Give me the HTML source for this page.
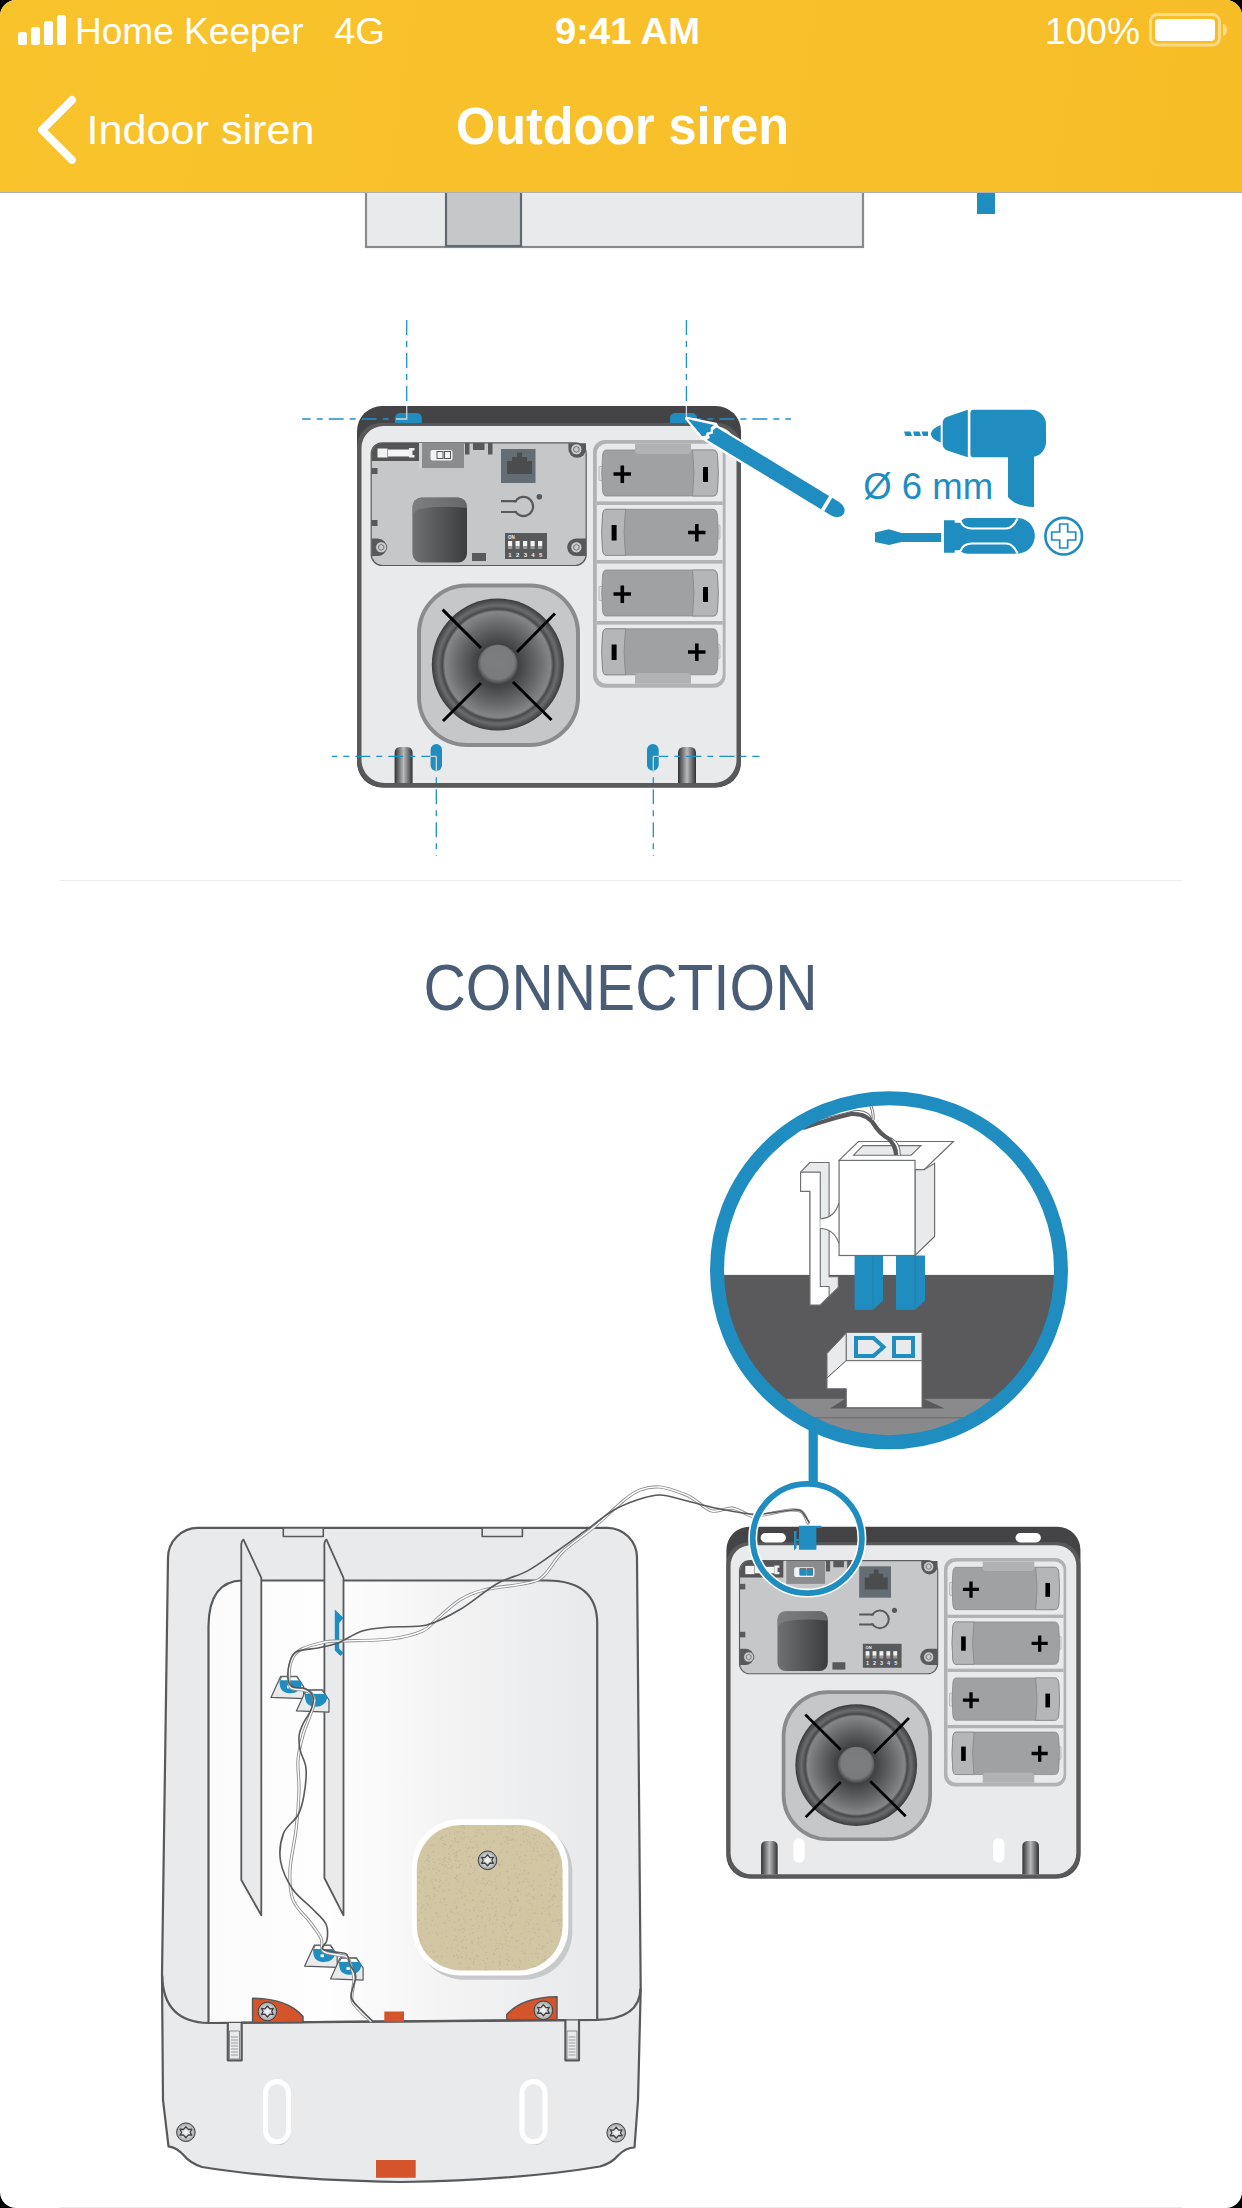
<!DOCTYPE html>
<html><head><meta charset="utf-8">
<style>
html,body{margin:0;padding:0;background:#000;width:1242px;height:2208px;overflow:hidden}
svg{display:block}
text{font-family:"Liberation Sans",sans-serif}
</style></head>
<body>
<svg width="1242" height="2208" viewBox="0 0 1242 2208">
<defs>
  <clipPath id="scr"><rect x="0" y="0" width="1242" height="2208" rx="16" ry="16"/></clipPath>
  <linearGradient id="gbox" x1="0" y1="0" x2="1" y2="0">
    <stop offset="0" stop-color="#707173"/><stop offset="1" stop-color="#3c3d3f"/>
  </linearGradient>
  <linearGradient id="gpost" x1="0" y1="0" x2="1" y2="0">
    <stop offset="0" stop-color="#2f3032"/><stop offset="0.5" stop-color="#b9babc"/><stop offset="1" stop-color="#2f3032"/>
  </linearGradient>
  <radialGradient id="gspk" cx="0.5" cy="0.5" r="0.5">
    <stop offset="0" stop-color="#6e6f71"/>
    <stop offset="0.30" stop-color="#3f4042"/>
    <stop offset="0.62" stop-color="#6a6b6d"/>
    <stop offset="0.80" stop-color="#858688"/>
    <stop offset="0.84" stop-color="#4a4b4d"/>
    <stop offset="0.9" stop-color="#6b6c6e"/>
    <stop offset="1" stop-color="#3a3b3d"/>
  </radialGradient>
  <radialGradient id="gdome" cx="0.5" cy="0.45" r="0.55">
    <stop offset="0" stop-color="#7d7e80"/><stop offset="0.75" stop-color="#7a7b7d"/><stop offset="1" stop-color="#3f4042"/>
  </radialGradient>
  <linearGradient id="gpanel" x1="0" y1="0" x2="1" y2="0">
    <stop offset="0" stop-color="#fbfbfb"/><stop offset="0.3" stop-color="#fefefe"/><stop offset="0.6" stop-color="#f4f4f5"/><stop offset="1" stop-color="#e8e9ea"/>
  </linearGradient>
  <pattern id="cork" x="0" y="0" width="24" height="24" patternUnits="userSpaceOnUse">
    <g fill="#aaa69a" opacity="0.55">
    <circle cx="3" cy="4" r="0.9"/><circle cx="11" cy="2" r="0.7"/><circle cx="18" cy="7" r="0.9"/><circle cx="7" cy="12" r="0.8"/><circle cx="15" cy="15" r="0.9"/><circle cx="22" cy="19" r="0.7"/><circle cx="4" cy="20" r="0.9"/><circle cx="12" cy="22" r="0.7"/><circle cx="20" cy="12" r="0.6"/><circle cx="9" cy="17" r="0.5"/>
    </g>
  </pattern>
  <linearGradient id="ghdr" x1="0" y1="0" x2="1242" y2="192" gradientUnits="userSpaceOnUse">
    <stop offset="0" stop-color="#f9c32c"/><stop offset="0.5" stop-color="#f8c12b"/><stop offset="1" stop-color="#f6bd27"/>
  </linearGradient>
  <radialGradient id="gscrew" cx="0.5" cy="0.5" r="0.5">
    <stop offset="0" stop-color="#f7f7f7"/><stop offset="0.6" stop-color="#cfd0d2"/><stop offset="1" stop-color="#9d9ea0"/>
  </radialGradient>
</defs>
<g clip-path="url(#scr)">
<rect x="0" y="0" width="1242" height="2208" fill="#ffffff"/>

<!-- ======== top partial illustration ======== -->
<rect x="366" y="180" width="497" height="67" fill="#e9eaec" stroke="#8a8b8d" stroke-width="2.2"/>
<rect x="446" y="180" width="75" height="66" fill="#c6c7c9" stroke="#5f6a71" stroke-width="2.2"/>
<rect x="977" y="185" width="18" height="29" fill="#1f8dbf"/>

<!-- ======== header ======== -->
<rect x="0" y="0" width="1242" height="192" fill="url(#ghdr)"/>
<rect x="0" y="192" width="1242" height="1" fill="#b0b0b4"/>
<!-- signal bars -->
<rect x="18" y="32" width="9" height="13" rx="2.5" fill="#fff"/>
<rect x="31" y="27" width="9" height="18" rx="2.5" fill="#fff"/>
<rect x="44" y="21" width="9" height="24" rx="2.5" fill="#fff"/>
<rect x="57" y="15" width="9" height="30" rx="2.5" fill="#fff"/>
<text x="75" y="44" font-size="36.5" fill="#fff" textLength="228.5" lengthAdjust="spacingAndGlyphs">Home Keeper</text>
<text x="334" y="44" font-size="36" fill="#fff" textLength="51" lengthAdjust="spacingAndGlyphs">4G</text>
<text x="555" y="44" font-size="36" font-weight="700" fill="#fff" textLength="145" lengthAdjust="spacingAndGlyphs">9:41 AM</text>
<text x="1045" y="44" font-size="36" fill="#fff" textLength="95" lengthAdjust="spacingAndGlyphs">100%</text>
<!-- battery -->
<rect x="1150.5" y="14.5" width="69" height="30.5" rx="7" fill="none" stroke="#fff" stroke-opacity="0.45" stroke-width="3"/>
<rect x="1155" y="19" width="60" height="22" rx="4" fill="#fff"/>
<path d="M1223 24 a4 6 0 0 1 0 12 Z" fill="#fff" fill-opacity="0.45"/>
<!-- nav -->
<path d="M72 100 L42 130 L72 160" fill="none" stroke="#fff" stroke-width="8" stroke-linecap="round" stroke-linejoin="round"/>
<text x="86.5" y="144" font-size="40" fill="#fff" textLength="228" lengthAdjust="spacingAndGlyphs">Indoor siren</text>
<text x="456" y="144" font-size="51" font-weight="700" fill="#fff" textLength="333" lengthAdjust="spacingAndGlyphs">Outdoor siren</text>

<!-- separator + heading -->
<rect x="60" y="880" width="1122" height="1" fill="#eeeeee"/>
<text x="423.5" y="1009.5" font-size="64" fill="#4a5d77" textLength="394" lengthAdjust="spacingAndGlyphs">CONNECTION</text>
<rect x="60" y="2207" width="1122" height="1" fill="#ebebeb"/>

<!-- DEVICE1 -->
<g id="dev">
  <rect x="357" y="406" width="384" height="381.5" rx="25" fill="#444446"/>
  <path d="M357 447 a24 24 0 0 1 24 -24 H717 a24 24 0 0 1 24 24 V760.5 a27 27 0 0 1 -27 27 H384 a27 27 0 0 1 -27 -27 Z" fill="#58595b"/>
  <path d="M361.5 448 a22 22 0 0 1 22 -22 H714.5 a22 22 0 0 1 22 22 V760 a23 23 0 0 1 -23 23 H384.5 a23 23 0 0 1 -23 -23 Z" fill="#e9eaec"/>
  <!-- PCB -->
  <rect x="371.2" y="442.8" width="215" height="122.7" rx="11" fill="#c6c7c9" stroke="#5b5c5e" stroke-width="1.2"/>
  <path d="M371.8 461 V454 a11 11 0 0 1 11 -11 H419 V461 Z" fill="#555557"/>
  <rect x="377.5" y="448.5" width="10" height="9" fill="#f2f2f2"/>
  <rect x="388" y="449.5" width="21" height="7" fill="#f4f4f4"/>
  <path d="M409 448 h5.5 v2.5 h-2 v4.5 h2 v2.5 h-5.5 Z" fill="#eeeeee"/>
  <rect x="371.5" y="468" width="6" height="6" fill="#58595b"/>
  <rect x="371.5" y="520" width="6" height="6" fill="#58595b"/>
  <rect x="419" y="443" width="3" height="25" fill="#d0d1d2"/>
  <rect x="422" y="443" width="42" height="25" fill="#8b8c8e"/>
  <rect x="430.5" y="450" width="22" height="10.5" rx="2" fill="#f2f2f2"/>
  <rect x="437" y="451.5" width="6" height="7" fill="none" stroke="#555" stroke-width="1"/>
  <rect x="444.5" y="451.5" width="6" height="7" fill="none" stroke="#555" stroke-width="1"/>
  <rect x="465" y="443" width="4.5" height="11.5" fill="#58595b"/>
  <rect x="473" y="443" width="11.5" height="7" fill="#58595b"/>
  <rect x="488" y="443" width="4.5" height="11.5" fill="#58595b"/>
  <rect x="501" y="449" width="34.5" height="34" fill="#646d73"/>
  <path d="M507 474 V461 h5 v-4 h5 v-4.5 h5 v4.5 h5 v4 h5 V474 Z" fill="#4b4c4e"/>
  <rect x="412.4" y="497.6" width="54.6" height="65" rx="9" fill="url(#gbox)"/>
  <path d="M412.4 512 V506.6 a9 9 0 0 1 9 -9 H458 a9 9 0 0 1 9 9 V508 Q440 505 420 509 Q413 511 412.4 516 Z" fill="#8a8b8d" opacity="0.55"/>
  <circle cx="523.5" cy="506.5" r="9.6" fill="none" stroke="#58595b" stroke-width="2.2"/>
  <rect x="511" y="502.4" width="5.5" height="8.5" fill="#c6c7c9"/>
  <path d="M501 501.2 H516.5 M501 512 H516.5" stroke="#58595b" stroke-width="2.2"/>
  <circle cx="539.3" cy="496.7" r="2.8" fill="#58595b"/>
  <rect x="505" y="533" width="42" height="26" fill="#58595b"/>
  <g fill="#f2f2f2">
    <rect x="508" y="541" width="4.2" height="5"/><rect x="515.5" y="541" width="4.2" height="5"/><rect x="523" y="541" width="4.2" height="5"/><rect x="530.5" y="541" width="4.2" height="5"/><rect x="538" y="541" width="4.2" height="5"/>
  </g>
  <g fill="#9a9b9d">
    <rect x="508" y="546" width="4.2" height="3"/><rect x="515.5" y="546" width="4.2" height="3"/><rect x="523" y="546" width="4.2" height="3"/><rect x="530.5" y="546" width="4.2" height="3"/><rect x="538" y="546" width="4.2" height="3"/>
  </g>
  <text x="508" y="539" font-size="4.5" fill="#eee" font-weight="700">ON</text>
  <text x="508.3" y="556.5" font-size="6" fill="#eee" font-weight="700" textLength="34" lengthAdjust="spacing">12345</text>
  <rect x="472" y="553" width="14" height="8" fill="#58595b"/>
  <!-- screws -->
  <g fill="#58595b">
    <path d="M371.8 538.5 h6 a8.8 8.8 0 0 1 0 17.6 h-6 Z"/>
    <path d="M586 538.5 h-10 a8.8 8.8 0 0 0 0 17.6 h10 Z"/>
    <path d="M586 443.3 V449 a8.8 8.8 0 0 1 -17.6 0 V443.3 Z"/>
  </g>
  <g fill="#c9cacc" stroke="#4a4b4d" stroke-width="0.8">
    <circle cx="381.2" cy="547.3" r="5.6"/>
    <circle cx="576.4" cy="547.3" r="5.6"/>
    <circle cx="576.4" cy="449.3" r="5.6"/>
  </g>
  <g fill="none" stroke="#6a6b6d" stroke-width="0.9">
    <path d="M381.2 544.3 l2.6 1.5 v3 l-2.6 1.5 l-2.6 -1.5 v-3 Z"/>
    <path d="M576.4 544.3 l2.6 1.5 v3 l-2.6 1.5 l-2.6 -1.5 v-3 Z"/>
    <path d="M576.4 446.3 l2.6 1.5 v3 l-2.6 1.5 l-2.6 -1.5 v-3 Z"/>
  </g>
  <!-- battery compartment -->
  <rect x="593" y="440" width="132.6" height="247.7" rx="12" fill="#b1b2b4"/>
  <rect x="596.8" y="443.8" width="125.9" height="240" rx="9.5" fill="#e9eaec"/>
  <rect x="596.8" y="501.4" width="125.9" height="3.6" fill="#b1b2b4"/>
  <rect x="596.8" y="560" width="125.9" height="3.6" fill="#b1b2b4"/>
  <rect x="596.8" y="621" width="125.9" height="3.6" fill="#b1b2b4"/>
  <!-- batteries -->
  <g id="batA">
    <rect x="599" y="466.5" width="5" height="14" rx="1" fill="#e0e0e1" stroke="#9a9b9d" stroke-width="0.6"/>
    <path d="M606 450 H713 q4 0 4.5 6 q1.5 17 0 34 q-0.5 6 -4.5 6 H606 q-3 0 -3.5 -6 q-1.5 -17 0 -34 q0.5 -6 3.5 -6 Z" fill="#a0a1a3" stroke="#808183" stroke-width="0.7"/>
    <path d="M692.5 450 H713 q4 0 4.5 6 q1.5 17 0 34 q-0.5 6 -4.5 6 H692.5 q3 -23 0 -46 Z" fill="#b5b6b8" stroke="#808183" stroke-width="0.7"/>
    <path d="M613.5 474 h17.5 M622.3 465.5 v17.5" stroke="#000" stroke-width="3.6"/>
    <rect x="703" y="467" width="5" height="15" fill="#000"/>
  </g>
  <g id="batB">
    <rect x="715" y="525" width="5" height="14" rx="1" fill="#e0e0e1" stroke="#9a9b9d" stroke-width="0.6"/>
    <path d="M606 509.3 H713 q4 0 4.5 6 q1.5 17 0 34 q-0.5 6 -4.5 6 H606 q-3 0 -3.5 -6 q-1.5 -17 0 -34 q0.5 -6 3.5 -6 Z" fill="#a0a1a3" stroke="#808183" stroke-width="0.7"/>
    <path d="M625.5 509.3 H606 q-3 0 -3.5 6 q-1.5 17 0 34 q0.5 6 3.5 6 H625.5 q-3 -23 0 -46 Z" fill="#b5b6b8" stroke="#808183" stroke-width="0.7"/>
    <path d="M688 532.5 h17.5 M696.8 524 v17.5" stroke="#000" stroke-width="3.6"/>
    <rect x="611.6" y="525" width="5" height="15.5" fill="#000"/>
  </g>
  <use href="#batA" transform="translate(0,120)"/>
  <use href="#batB" transform="translate(0,119.5)"/>
  <path d="M635 443.8 H691 V450 q0 4 -4 4 H639 q-4 0 -4 -4 Z" fill="#b1b2b4"/>
  <path d="M635 683.8 H691 V677 q0 -4 -4 -4 H639 q-4 0 -4 4 Z" fill="#b1b2b4"/>
  <!-- speaker -->
  <rect x="419" y="585.5" width="159" height="159.5" rx="48" fill="#c6c7c9" stroke="#8a8b8d" stroke-width="4"/>
  <circle cx="497.8" cy="664.6" r="66" fill="url(#gspk)"/>
  <circle cx="497.8" cy="664.6" r="55.8" fill="none" stroke="#4a4b4d" stroke-width="0.9"/>
  <circle cx="497.8" cy="664.6" r="20" fill="url(#gdome)"/>
  <path d="M442.6 609.6 L481 648 M555 613.5 L517 652 M443 721 L481 683 M551.5 720 L513 682" stroke="#000" stroke-width="3"/>
  <!-- posts -->
  <path d="M394.6 783 V753 q0 -6 6 -6 h6 q6 0 6 6 V783 Z" fill="url(#gpost)"/>
  <path d="M678 783 V753 q0 -6 6 -6 h6 q6 0 6 6 V783 Z" fill="url(#gpost)"/>
</g>
<!-- slots / dashed lines device 1 -->
<g fill="#1f8dbf">
  <path d="M395 423 V418 a5 5 0 0 1 5 -5 H416.8 a5 5 0 0 1 5 5 V423 Z"/>
  <path d="M670 423 V418 a5 5 0 0 1 5 -5 H692 a5 5 0 0 1 5 5 V423 Z"/>
  <rect x="430.6" y="744" width="11.4" height="27" rx="5.7"/>
  <rect x="647" y="744" width="11.7" height="26.7" rx="5.8"/>
</g>
<g stroke="#1b93cc" stroke-width="1.3" fill="none" stroke-dasharray="15 6 6 6">
  <path d="M406.7 320 V406"/>
  <path d="M406.7 419 H302" stroke-dasharray="15 6 6 6" stroke-dashoffset="3"/>
  <path d="M686.4 320 V406"/>
  <path d="M686.4 419 H791"/>
  <path d="M436.3 756.3 H332"/>
  <path d="M436.3 756.3 V856"/>
  <path d="M653.3 756.3 H759.4"/>
  <path d="M653.3 756.3 V856"/>
</g>
<g stroke="#cfd6de" stroke-width="1.3" fill="none">
  <path d="M406.7 406 V419 H396"/>
  <path d="M686.4 406 V419 H697"/>
  <path d="M436.3 756.3 V772 M436.3 756.3 H430"/>
  <path d="M653.3 756.3 V771 M653.3 756.3 H659"/>
</g>

<!-- TOOLS -->
<g fill="#1f8dbf">
  <!-- pencil -->
  <g transform="translate(686.6,418.4) rotate(31.3)">
    <path d="M0 0 L28 -10 L31 -8.4 V-8.4 H162 V8.4 H30 L23 8 Z M165.5 -8.4 H174 a10 8.4 0 0 1 0 16.8 H165.5 Z" fill="#fff" stroke="#fff" stroke-width="3.2" stroke-linejoin="round"/>
    <path d="M1.5 0 L27 -8.6 L25.5 -4.5 L27.5 -1.5 L24.5 2 L25.5 4.5 L22.5 7.2 Z"/>
    <path d="M30.5 -7.8 H162 V7.8 H28.5 L30 4.5 L27.5 2.5 L30.5 -1 L28.5 -3.5 Z"/>
    <path d="M165.8 -7.8 H174 a9.8 7.8 0 0 1 0 15.6 H165.8 Z"/>
  </g>
  <!-- drill -->
  <path d="M904 431.6 h6.5 l1.5 4.4 h-6.5 Z M913 431.6 h6.5 l1.5 4.4 h-6.5 Z M921.5 431.6 h6.5 v4.4 h-5 Z"/>
  <path d="M940.7 425 Q931 429 930.8 433.8 Q931 439 940.7 442.5 Z"/>
  <path d="M967.8 409.7 V457.3 L946.5 450.2 Q942.7 448 942.7 444 V423 Q942.7 419 946.5 417 Z"/>
  <path d="M973.4 409.7 H1031 a15 15 0 0 1 15 15 V442 a15 15 0 0 1 -12 14.8 V507 Q1015 506 1008 497 V457.3 H973.4 a3 3 0 0 1 -3 -3 V412.7 a3 3 0 0 1 3 -3 Z"/>
  <!-- screwdriver -->
  <path d="M875 532.5 L889 529.2 L901.5 533 H941.2 V542 H901.5 L889 545 L875 542 Z"/>
  <path d="M944 520.3 H954.7 V522.8 H960 Q962 518 968 518 H1017 a17.8 17.8 0 0 1 0 35.7 H968 Q962 553.7 960 550.3 H954.7 V552.8 H944 Z"/>
  <path d="M960.5 521 Q963 528.5 972 528.5 H1006 Q1013 528.5 1017.5 518.5 M960.5 551 Q963 543.5 972 543.5 H1006 Q1013 543.5 1017.5 553.5" fill="none" stroke="#fff" stroke-width="2.2"/>
</g>
<circle cx="1063.7" cy="536.2" r="18.3" fill="none" stroke="#1f8dbf" stroke-width="2.6"/>
<path d="M1059.7 524 h8 v8 h8 v8 h-8 v8 h-8 v-8 h-8 v-8 h8 Z" fill="none" stroke="#1f8dbf" stroke-width="1.7"/>
<text x="863.2" y="498.5" font-size="37" fill="#1f8dbf" textLength="130" lengthAdjust="spacingAndGlyphs">Ø 6 mm</text>

<!-- CONNECTION ILLUSTRATION -->
<!-- ===== back plate ===== -->
<g id="plate" stroke-linejoin="round">
  <path d="M198 1527.8 H607.5 A30 30 0 0 1 637 1558 L640.7 1990 L638 2100 L634.5 2147.5 Q626 2147.5 618 2155.5 Q612 2163 600 2166.5 Q520 2180 401 2182 Q282 2180 202 2167 Q190 2163 184 2155.5 Q177 2147.5 168.5 2146.3 L163 2100 L162 1975 L167.4 1600 L168 1558 A30 30 0 0 1 198 1527.8 Z" fill="#e9eaec" stroke="#58595b" stroke-width="2.2"/>
  <path d="M162.3 1975.7 Q163 2022 208.7 2023 M596.8 2019.8 Q640 2019 640.5 1988.4" fill="none" stroke="#58595b" stroke-width="2.2"/>
  <rect x="283.3" y="1528" width="40" height="8.5" fill="#e9eaec" stroke="#58595b" stroke-width="1.6"/>
  <rect x="482.2" y="1528" width="40.2" height="8.5" fill="#e9eaec" stroke="#58595b" stroke-width="1.6"/>
  <!-- inner opening -->
  <path d="M208.5 2023 V1626 Q209 1581 242.4 1580.5 H547.4 Q597 1581 597.2 1623 V2020 Z" fill="url(#gpanel)" stroke="#58595b" stroke-width="2.2"/>
  <!-- bottom edge with notches -->
  <path d="M208.5 2023 H227.8 V2060.3 H241.7 V2022.6 L565.4 2020 V2060.3 H579 V2020 H597.2" fill="#e9eaec" stroke="#58595b" stroke-width="2.2"/>
  <rect x="229.5" y="2031" width="10" height="28" fill="#e9eaec" stroke="#8a8b8d" stroke-width="1"/>
  <rect x="567" y="2031" width="10" height="28" fill="#e9eaec" stroke="#8a8b8d" stroke-width="1"/>
  <path d="M231 2037 h7 M231 2040 h7 M231 2043 h7 M231 2046 h7 M231 2049 h7 M231 2052 h7 M231 2055 h7 M568.5 2037 h7 M568.5 2040 h7 M568.5 2043 h7 M568.5 2046 h7 M568.5 2049 h7 M568.5 2052 h7 M568.5 2055 h7" stroke="#8a8b8d" stroke-width="0.8"/>
  <!-- rails -->
  <path d="M243.5 1539.6 L261.3 1577.8 V1915.3 L241.3 1880 V1548 Q240.8 1541.5 243.5 1539.6 Z" fill="#e9eaec" stroke="#58595b" stroke-width="1.8"/>
  <path d="M326.5 1539.6 L343.5 1577.8 V1915.3 L324.4 1878 V1548 Q323.8 1541.5 326.5 1539.6 Z" fill="#e9eaec" stroke="#58595b" stroke-width="1.8"/>
  <path d="M334.8 1609.5 L343.5 1618 L339.2 1623 V1648.5 L343.5 1653 L340.5 1656 L334.8 1650.5 Z" fill="#1f8dbf"/>
  <!-- orange -->
  <path d="M252.6 2022.4 V1998.2 Q288 1998.5 303 2016.5 V2022.4 Z" fill="#d4542b" stroke="#58595b" stroke-width="1.5" stroke-linejoin="round"/>
  <path d="M557 2019.8 V1996.8 Q522 1997.3 506.8 2014.5 V2019.8 Z" fill="#d4542b" stroke="#58595b" stroke-width="1.5" stroke-linejoin="round"/>
  <rect x="384.3" y="2011.5" width="19.7" height="10.2" fill="#d4542b"/>
  <rect x="376" y="2160" width="39.7" height="17.8" fill="#d4542b"/>
  <!-- slots -->
  <rect x="267" y="2083" width="23" height="62" rx="11.5" fill="#c9cacc"/>
  <rect x="265.5" y="2081.5" width="23" height="60.5" rx="11.5" fill="#e9eaec" stroke="#ffffff" stroke-width="5"/>
  <rect x="523.5" y="2083" width="23" height="62" rx="11.5" fill="#c9cacc"/>
  <rect x="522" y="2081.5" width="23" height="60.5" rx="11.5" fill="#e9eaec" stroke="#ffffff" stroke-width="5"/>
  <!-- cork -->
  <rect x="416" y="1823.5" width="156.3" height="156.2" rx="48" fill="#c8c9cb"/>
  <rect x="412" y="1819.3" width="156.3" height="156.2" rx="48" fill="#ffffff"/>
  <rect x="416.8" y="1825" width="145.8" height="145.4" rx="44" fill="#d2c6a3"/>
  <clipPath id="corkc"><rect x="416.8" y="1825" width="145.8" height="145.4" rx="44"/></clipPath><g clip-path="url(#corkc)" fill="#aeaa9c" opacity="0.5"><circle cx="483.0" cy="1906.2" r="0.7"/><circle cx="483.0" cy="1949.0" r="0.5"/><circle cx="444.0" cy="1899.2" r="0.9"/><circle cx="506.6" cy="1852.0" r="0.7"/><circle cx="461.3" cy="1838.1" r="0.9"/><circle cx="509.6" cy="1911.3" r="0.7"/><circle cx="557.9" cy="1919.8" r="0.8"/><circle cx="511.9" cy="1915.4" r="0.8"/><circle cx="426.2" cy="1830.2" r="0.5"/><circle cx="504.5" cy="1937.8" r="0.6"/><circle cx="481.3" cy="1947.2" r="0.8"/><circle cx="451.1" cy="1867.7" r="0.4"/><circle cx="513.7" cy="1891.3" r="0.6"/><circle cx="476.4" cy="1904.9" r="0.4"/><circle cx="520.3" cy="1870.7" r="0.5"/><circle cx="491.9" cy="1829.3" r="0.8"/><circle cx="528.9" cy="1883.1" r="0.6"/><circle cx="473.4" cy="1963.9" r="0.9"/><circle cx="417.1" cy="1855.4" r="0.4"/><circle cx="485.6" cy="1967.2" r="0.7"/><circle cx="478.3" cy="1907.1" r="0.5"/><circle cx="530.7" cy="1864.1" r="0.4"/><circle cx="462.4" cy="1827.2" r="0.7"/><circle cx="527.7" cy="1842.1" r="0.5"/><circle cx="520.2" cy="1826.6" r="0.7"/><circle cx="533.4" cy="1850.8" r="0.8"/><circle cx="444.5" cy="1898.8" r="0.9"/><circle cx="529.4" cy="1885.8" r="0.7"/><circle cx="434.0" cy="1886.0" r="0.5"/><circle cx="417.1" cy="1950.3" r="0.8"/><circle cx="461.4" cy="1953.3" r="0.5"/><circle cx="444.3" cy="1969.4" r="0.8"/><circle cx="510.7" cy="1839.5" r="0.5"/><circle cx="448.1" cy="1862.5" r="0.8"/><circle cx="465.0" cy="1868.0" r="0.4"/><circle cx="427.8" cy="1855.3" r="0.9"/><circle cx="452.5" cy="1912.2" r="0.6"/><circle cx="507.8" cy="1843.4" r="0.8"/><circle cx="487.6" cy="1908.3" r="0.7"/><circle cx="443.7" cy="1847.3" r="0.5"/><circle cx="536.4" cy="1861.2" r="0.5"/><circle cx="440.1" cy="1916.2" r="0.8"/><circle cx="445.7" cy="1962.8" r="0.7"/><circle cx="505.1" cy="1886.1" r="0.4"/><circle cx="432.9" cy="1899.3" r="0.6"/><circle cx="451.8" cy="1927.2" r="0.6"/><circle cx="478.4" cy="1956.2" r="0.7"/><circle cx="459.8" cy="1850.4" r="0.9"/><circle cx="559.7" cy="1843.3" r="0.7"/><circle cx="498.7" cy="1948.6" r="0.8"/><circle cx="427.8" cy="1855.8" r="0.5"/><circle cx="526.4" cy="1835.0" r="0.7"/><circle cx="482.1" cy="1833.8" r="0.5"/><circle cx="458.2" cy="1902.0" r="0.5"/><circle cx="430.5" cy="1845.1" r="0.7"/><circle cx="560.2" cy="1920.3" r="0.9"/><circle cx="493.2" cy="1962.3" r="0.8"/><circle cx="422.1" cy="1827.6" r="0.6"/><circle cx="519.3" cy="1964.6" r="0.4"/><circle cx="504.4" cy="1835.9" r="0.4"/><circle cx="523.7" cy="1871.2" r="0.4"/><circle cx="428.0" cy="1904.2" r="0.9"/><circle cx="423.5" cy="1960.8" r="0.9"/><circle cx="519.7" cy="1940.0" r="0.6"/><circle cx="468.4" cy="1924.3" r="0.4"/><circle cx="544.2" cy="1885.5" r="0.4"/><circle cx="543.1" cy="1908.1" r="0.8"/><circle cx="513.7" cy="1880.0" r="0.4"/><circle cx="505.9" cy="1836.6" r="0.9"/><circle cx="433.9" cy="1862.3" r="0.7"/><circle cx="523.3" cy="1881.3" r="0.9"/><circle cx="518.3" cy="1891.4" r="0.7"/><circle cx="539.4" cy="1837.1" r="0.8"/><circle cx="421.3" cy="1912.2" r="0.7"/><circle cx="420.3" cy="1963.8" r="0.4"/><circle cx="489.6" cy="1914.1" r="0.7"/><circle cx="454.4" cy="1826.6" r="0.6"/><circle cx="437.9" cy="1913.7" r="0.8"/><circle cx="441.8" cy="1956.3" r="0.9"/><circle cx="552.8" cy="1897.3" r="0.5"/><circle cx="464.7" cy="1921.6" r="0.5"/><circle cx="509.6" cy="1941.5" r="0.5"/><circle cx="545.5" cy="1880.7" r="0.8"/><circle cx="551.4" cy="1855.4" r="0.5"/><circle cx="489.5" cy="1946.4" r="0.4"/><circle cx="520.8" cy="1962.8" r="0.6"/><circle cx="537.0" cy="1841.4" r="0.7"/><circle cx="457.2" cy="1856.0" r="0.7"/><circle cx="472.9" cy="1900.4" r="0.9"/><circle cx="463.0" cy="1946.7" r="0.8"/><circle cx="483.1" cy="1835.8" r="0.4"/><circle cx="457.6" cy="1913.1" r="0.9"/><circle cx="520.5" cy="1907.7" r="0.6"/><circle cx="511.8" cy="1906.8" r="0.9"/><circle cx="436.8" cy="1891.0" r="0.4"/><circle cx="529.3" cy="1863.6" r="0.5"/><circle cx="533.3" cy="1967.7" r="0.4"/><circle cx="482.2" cy="1916.3" r="0.9"/><circle cx="510.4" cy="1878.5" r="0.4"/><circle cx="516.9" cy="1853.9" r="0.7"/><circle cx="454.4" cy="1928.6" r="0.7"/><circle cx="495.1" cy="1830.2" r="0.5"/><circle cx="456.8" cy="1875.1" r="0.9"/><circle cx="555.2" cy="1897.6" r="0.5"/><circle cx="474.5" cy="1939.8" r="0.5"/><circle cx="429.7" cy="1960.2" r="0.9"/><circle cx="473.6" cy="1890.3" r="0.5"/><circle cx="508.3" cy="1956.9" r="0.7"/><circle cx="497.3" cy="1919.6" r="0.8"/><circle cx="533.3" cy="1961.9" r="0.7"/><circle cx="464.7" cy="1967.4" r="0.4"/><circle cx="522.4" cy="1943.7" r="0.9"/><circle cx="551.9" cy="1842.9" r="0.5"/><circle cx="548.4" cy="1967.2" r="0.6"/><circle cx="495.4" cy="1939.7" r="0.6"/><circle cx="455.2" cy="1929.1" r="0.4"/><circle cx="467.9" cy="1837.0" r="0.7"/><circle cx="466.9" cy="1886.1" r="0.6"/><circle cx="488.2" cy="1829.1" r="0.4"/><circle cx="479.6" cy="1830.1" r="0.8"/><circle cx="465.9" cy="1939.2" r="0.5"/><circle cx="485.7" cy="1970.0" r="0.9"/><circle cx="492.7" cy="1923.3" r="0.7"/><circle cx="555.1" cy="1896.4" r="0.9"/><circle cx="429.6" cy="1857.1" r="0.8"/><circle cx="498.6" cy="1945.5" r="0.8"/><circle cx="510.3" cy="1900.8" r="0.8"/><circle cx="454.5" cy="1922.3" r="0.8"/><circle cx="447.4" cy="1948.4" r="0.8"/><circle cx="493.5" cy="1908.1" r="0.5"/><circle cx="477.0" cy="1841.6" r="0.4"/><circle cx="505.4" cy="1829.0" r="0.4"/><circle cx="492.3" cy="1883.1" r="0.8"/><circle cx="434.8" cy="1838.5" r="0.5"/><circle cx="426.6" cy="1903.1" r="0.7"/><circle cx="551.4" cy="1941.1" r="0.7"/><circle cx="456.3" cy="1893.6" r="0.5"/><circle cx="466.6" cy="1955.6" r="0.7"/><circle cx="493.6" cy="1840.7" r="0.7"/><circle cx="507.2" cy="1959.2" r="0.5"/><circle cx="519.5" cy="1966.7" r="0.4"/><circle cx="445.3" cy="1858.0" r="0.9"/><circle cx="458.5" cy="1929.9" r="0.5"/><circle cx="507.5" cy="1840.2" r="0.9"/><circle cx="502.0" cy="1948.5" r="0.8"/><circle cx="453.6" cy="1853.7" r="0.8"/><circle cx="545.3" cy="1828.4" r="0.9"/><circle cx="477.4" cy="1901.8" r="0.5"/><circle cx="495.6" cy="1950.3" r="0.8"/><circle cx="510.2" cy="1901.8" r="0.8"/><circle cx="506.3" cy="1949.2" r="0.5"/><circle cx="550.6" cy="1916.0" r="0.6"/><circle cx="548.8" cy="1870.8" r="0.6"/><circle cx="547.0" cy="1853.2" r="0.5"/><circle cx="546.6" cy="1844.4" r="0.5"/><circle cx="436.4" cy="1837.8" r="0.7"/><circle cx="431.2" cy="1945.7" r="0.7"/><circle cx="496.3" cy="1927.2" r="0.5"/><circle cx="475.8" cy="1924.4" r="0.4"/><circle cx="431.0" cy="1907.6" r="0.6"/><circle cx="550.1" cy="1965.4" r="0.4"/><circle cx="519.9" cy="1917.0" r="0.6"/><circle cx="490.4" cy="1924.4" r="0.5"/><circle cx="534.2" cy="1894.9" r="0.4"/><circle cx="422.5" cy="1905.0" r="0.8"/><circle cx="549.1" cy="1894.8" r="0.5"/><circle cx="443.9" cy="1854.6" r="0.5"/><circle cx="561.6" cy="1959.4" r="0.4"/><circle cx="501.6" cy="1844.5" r="0.9"/><circle cx="484.5" cy="1935.9" r="0.6"/><circle cx="474.1" cy="1886.8" r="0.6"/><circle cx="479.8" cy="1912.1" r="0.4"/><circle cx="509.6" cy="1830.9" r="0.5"/><circle cx="443.5" cy="1890.8" r="0.9"/><circle cx="471.0" cy="1958.7" r="0.8"/><circle cx="441.1" cy="1899.3" r="0.4"/><circle cx="464.3" cy="1837.3" r="0.9"/><circle cx="544.8" cy="1956.8" r="0.7"/><circle cx="500.2" cy="1852.7" r="0.8"/><circle cx="560.5" cy="1941.7" r="0.6"/><circle cx="457.8" cy="1841.9" r="0.9"/><circle cx="530.6" cy="1943.1" r="0.7"/><circle cx="436.4" cy="1872.8" r="0.8"/><circle cx="518.4" cy="1936.3" r="0.5"/><circle cx="476.2" cy="1929.8" r="0.4"/><circle cx="533.4" cy="1868.7" r="0.4"/><circle cx="418.5" cy="1876.6" r="0.9"/><circle cx="548.8" cy="1832.2" r="0.6"/><circle cx="554.9" cy="1921.6" r="0.6"/><circle cx="448.5" cy="1883.9" r="0.5"/><circle cx="494.8" cy="1881.5" r="0.7"/><circle cx="510.8" cy="1926.7" r="0.7"/><circle cx="560.1" cy="1828.3" r="0.8"/><circle cx="432.8" cy="1859.4" r="0.7"/><circle cx="475.6" cy="1832.3" r="0.5"/><circle cx="511.6" cy="1826.6" r="0.6"/><circle cx="453.6" cy="1956.3" r="0.8"/><circle cx="495.9" cy="1885.3" r="0.8"/><circle cx="499.9" cy="1969.3" r="0.9"/><circle cx="481.9" cy="1918.5" r="0.8"/><circle cx="504.2" cy="1935.1" r="0.4"/><circle cx="473.4" cy="1961.1" r="0.7"/><circle cx="485.9" cy="1849.5" r="0.7"/><circle cx="496.1" cy="1911.5" r="0.7"/><circle cx="555.0" cy="1886.0" r="0.8"/><circle cx="475.2" cy="1870.3" r="0.8"/><circle cx="458.7" cy="1920.0" r="0.8"/><circle cx="552.7" cy="1921.2" r="0.9"/><circle cx="460.2" cy="1827.0" r="0.5"/><circle cx="502.5" cy="1916.8" r="0.7"/><circle cx="527.2" cy="1881.5" r="0.6"/><circle cx="526.3" cy="1832.3" r="0.9"/><circle cx="554.9" cy="1835.7" r="0.5"/><circle cx="479.7" cy="1894.3" r="0.5"/><circle cx="423.6" cy="1839.3" r="0.9"/><circle cx="549.8" cy="1845.9" r="0.5"/><circle cx="505.1" cy="1841.7" r="0.8"/><circle cx="477.9" cy="1842.1" r="0.4"/><circle cx="469.1" cy="1847.4" r="0.6"/><circle cx="481.7" cy="1921.8" r="0.7"/><circle cx="504.8" cy="1917.7" r="0.9"/><circle cx="478.3" cy="1937.8" r="0.8"/><circle cx="536.0" cy="1844.9" r="0.6"/><circle cx="524.2" cy="1859.6" r="0.4"/><circle cx="490.4" cy="1869.7" r="0.8"/><circle cx="508.2" cy="1877.1" r="0.6"/><circle cx="506.0" cy="1930.1" r="0.9"/><circle cx="503.4" cy="1916.8" r="0.5"/><circle cx="444.7" cy="1861.1" r="0.9"/><circle cx="550.7" cy="1952.4" r="0.4"/><circle cx="508.7" cy="1826.4" r="0.6"/><circle cx="479.1" cy="1915.4" r="0.4"/><circle cx="449.5" cy="1865.4" r="0.4"/><circle cx="550.3" cy="1848.3" r="0.5"/><circle cx="509.1" cy="1879.1" r="0.7"/><circle cx="468.7" cy="1874.0" r="0.7"/><circle cx="525.7" cy="1946.6" r="0.4"/><circle cx="534.1" cy="1889.9" r="0.8"/><circle cx="539.3" cy="1936.5" r="0.7"/><circle cx="479.0" cy="1862.4" r="0.5"/><circle cx="470.9" cy="1919.8" r="0.8"/><circle cx="464.5" cy="1904.5" r="0.9"/><circle cx="537.6" cy="1851.7" r="0.9"/><circle cx="470.9" cy="1839.1" r="0.6"/><circle cx="428.5" cy="1837.0" r="0.8"/><circle cx="499.9" cy="1943.2" r="0.7"/><circle cx="460.6" cy="1937.4" r="0.4"/><circle cx="462.3" cy="1957.0" r="0.8"/><circle cx="428.9" cy="1869.1" r="0.9"/><circle cx="528.6" cy="1872.6" r="0.5"/><circle cx="448.9" cy="1920.3" r="0.6"/><circle cx="470.5" cy="1842.0" r="0.9"/><circle cx="481.4" cy="1911.2" r="0.9"/><circle cx="550.4" cy="1888.5" r="0.6"/><circle cx="483.9" cy="1857.1" r="0.9"/><circle cx="547.6" cy="1861.0" r="0.6"/><circle cx="538.0" cy="1828.5" r="0.9"/><circle cx="474.8" cy="1881.2" r="0.5"/><circle cx="524.9" cy="1878.4" r="0.7"/><circle cx="495.9" cy="1946.3" r="0.8"/><circle cx="442.9" cy="1838.0" r="0.7"/><circle cx="545.6" cy="1865.8" r="0.4"/><circle cx="449.3" cy="1833.4" r="0.5"/><circle cx="499.8" cy="1965.1" r="0.9"/><circle cx="539.9" cy="1886.3" r="0.8"/><circle cx="496.8" cy="1939.3" r="0.4"/><circle cx="465.8" cy="1864.7" r="0.4"/><circle cx="548.3" cy="1837.3" r="0.9"/><circle cx="512.4" cy="1839.1" r="0.9"/><circle cx="478.6" cy="1928.3" r="0.7"/><circle cx="528.7" cy="1900.6" r="0.7"/><circle cx="474.6" cy="1874.0" r="0.6"/><circle cx="515.2" cy="1896.6" r="0.8"/><circle cx="534.5" cy="1835.5" r="0.8"/><circle cx="550.6" cy="1884.5" r="0.9"/><circle cx="468.0" cy="1825.6" r="0.7"/><circle cx="538.7" cy="1953.9" r="0.8"/><circle cx="510.5" cy="1901.0" r="0.9"/><circle cx="418.5" cy="1840.9" r="0.7"/><circle cx="550.7" cy="1860.6" r="0.5"/><circle cx="561.7" cy="1879.5" r="0.5"/><circle cx="463.8" cy="1881.5" r="0.8"/><circle cx="459.6" cy="1965.6" r="0.4"/><circle cx="485.8" cy="1931.0" r="0.6"/><circle cx="511.6" cy="1937.5" r="0.5"/><circle cx="550.2" cy="1934.2" r="0.4"/><circle cx="502.3" cy="1956.8" r="0.4"/><circle cx="462.6" cy="1853.7" r="0.6"/><circle cx="448.7" cy="1859.1" r="0.9"/><circle cx="485.9" cy="1898.7" r="0.7"/><circle cx="444.0" cy="1865.8" r="0.5"/><circle cx="550.0" cy="1960.9" r="0.9"/><circle cx="497.0" cy="1943.5" r="0.7"/><circle cx="541.6" cy="1895.3" r="0.7"/><circle cx="550.5" cy="1874.6" r="0.8"/><circle cx="529.7" cy="1838.4" r="0.5"/><circle cx="475.3" cy="1856.5" r="0.5"/><circle cx="534.0" cy="1880.8" r="0.8"/><circle cx="533.0" cy="1937.3" r="0.4"/><circle cx="513.0" cy="1859.5" r="0.4"/><circle cx="544.6" cy="1956.3" r="0.7"/><circle cx="533.3" cy="1928.4" r="0.8"/><circle cx="544.7" cy="1885.3" r="0.6"/><circle cx="438.1" cy="1956.7" r="0.8"/><circle cx="436.1" cy="1932.5" r="0.8"/><circle cx="455.9" cy="1902.5" r="0.5"/><circle cx="500.5" cy="1850.9" r="0.5"/><circle cx="536.9" cy="1947.7" r="0.5"/><circle cx="429.0" cy="1864.1" r="0.9"/><circle cx="494.1" cy="1954.0" r="0.9"/><circle cx="485.4" cy="1963.5" r="0.8"/><circle cx="496.3" cy="1898.4" r="0.4"/><circle cx="532.2" cy="1885.5" r="0.9"/><circle cx="430.3" cy="1944.8" r="0.5"/><circle cx="422.4" cy="1884.9" r="0.7"/><circle cx="440.0" cy="1945.6" r="0.6"/><circle cx="463.2" cy="1883.8" r="0.8"/><circle cx="461.6" cy="1892.7" r="0.9"/><circle cx="426.8" cy="1835.8" r="0.5"/><circle cx="432.4" cy="1882.2" r="0.7"/><circle cx="526.0" cy="1938.7" r="0.4"/><circle cx="512.5" cy="1826.8" r="0.7"/><circle cx="520.9" cy="1893.9" r="0.6"/><circle cx="499.4" cy="1891.4" r="0.4"/><circle cx="542.0" cy="1947.5" r="0.9"/><circle cx="447.2" cy="1914.3" r="0.6"/><circle cx="508.7" cy="1960.9" r="0.9"/><circle cx="460.5" cy="1873.9" r="0.7"/><circle cx="498.1" cy="1837.6" r="0.5"/><circle cx="446.2" cy="1931.1" r="0.6"/><circle cx="462.2" cy="1864.7" r="0.7"/><circle cx="522.7" cy="1873.1" r="0.7"/><circle cx="430.5" cy="1845.4" r="0.4"/><circle cx="436.2" cy="1916.4" r="0.5"/><circle cx="443.3" cy="1883.3" r="0.7"/><circle cx="503.5" cy="1838.1" r="0.5"/><circle cx="421.7" cy="1968.2" r="0.7"/><circle cx="476.4" cy="1835.5" r="0.7"/><circle cx="552.3" cy="1845.2" r="0.5"/><circle cx="529.0" cy="1944.1" r="0.7"/><circle cx="487.5" cy="1958.6" r="0.8"/><circle cx="419.3" cy="1883.1" r="0.9"/><circle cx="463.4" cy="1939.4" r="0.5"/><circle cx="513.4" cy="1913.2" r="0.4"/><circle cx="455.1" cy="1852.4" r="0.6"/><circle cx="512.0" cy="1840.4" r="0.7"/><circle cx="446.9" cy="1873.2" r="0.6"/><circle cx="537.5" cy="1913.7" r="0.5"/><circle cx="454.1" cy="1903.1" r="0.6"/><circle cx="497.0" cy="1876.1" r="0.8"/><circle cx="492.0" cy="1908.3" r="0.5"/><circle cx="561.1" cy="1899.8" r="0.9"/><circle cx="520.2" cy="1960.7" r="0.8"/><circle cx="555.0" cy="1915.9" r="0.5"/><circle cx="530.4" cy="1844.8" r="0.7"/><circle cx="501.2" cy="1926.1" r="0.6"/><circle cx="430.4" cy="1951.5" r="0.6"/><circle cx="484.6" cy="1843.0" r="0.9"/><circle cx="436.8" cy="1956.1" r="0.8"/><circle cx="496.7" cy="1834.2" r="0.6"/><circle cx="441.6" cy="1933.1" r="0.6"/><circle cx="504.8" cy="1842.8" r="0.4"/><circle cx="459.1" cy="1955.1" r="0.5"/><circle cx="527.7" cy="1877.6" r="0.5"/><circle cx="444.1" cy="1904.4" r="0.4"/><circle cx="483.3" cy="1883.5" r="0.9"/><circle cx="437.2" cy="1934.6" r="0.9"/><circle cx="549.3" cy="1914.2" r="0.9"/><circle cx="534.4" cy="1827.4" r="0.5"/><circle cx="477.2" cy="1829.8" r="0.8"/><circle cx="473.4" cy="1907.6" r="0.5"/><circle cx="466.1" cy="1844.1" r="0.5"/><circle cx="499.9" cy="1873.2" r="0.9"/><circle cx="531.5" cy="1929.6" r="0.5"/><circle cx="475.9" cy="1897.1" r="0.4"/><circle cx="485.6" cy="1884.7" r="0.8"/><circle cx="550.3" cy="1906.9" r="0.7"/><circle cx="526.8" cy="1895.4" r="0.7"/><circle cx="539.4" cy="1949.0" r="0.7"/><circle cx="537.5" cy="1842.0" r="0.4"/><circle cx="549.2" cy="1901.3" r="0.8"/><circle cx="493.0" cy="1886.0" r="0.4"/><circle cx="463.8" cy="1832.9" r="0.9"/><circle cx="507.0" cy="1887.8" r="0.7"/><circle cx="504.2" cy="1934.0" r="0.6"/><circle cx="545.9" cy="1952.2" r="0.5"/><circle cx="435.2" cy="1889.8" r="0.8"/><circle cx="544.5" cy="1966.0" r="0.7"/><circle cx="518.5" cy="1901.3" r="0.5"/><circle cx="496.6" cy="1920.2" r="0.5"/><circle cx="545.4" cy="1969.9" r="0.9"/><circle cx="558.1" cy="1921.5" r="0.8"/><circle cx="478.5" cy="1941.8" r="0.5"/><circle cx="511.8" cy="1886.1" r="0.4"/><circle cx="548.9" cy="1839.3" r="0.5"/><circle cx="435.1" cy="1903.0" r="0.7"/><circle cx="417.1" cy="1860.4" r="0.6"/><circle cx="420.5" cy="1849.9" r="0.7"/><circle cx="547.7" cy="1943.2" r="0.7"/><circle cx="437.6" cy="1925.4" r="0.5"/><circle cx="423.7" cy="1829.5" r="0.6"/><circle cx="461.9" cy="1897.3" r="0.7"/><circle cx="545.3" cy="1854.4" r="0.9"/><circle cx="547.9" cy="1853.3" r="0.6"/><circle cx="548.3" cy="1827.3" r="0.9"/><circle cx="545.4" cy="1969.3" r="0.5"/><circle cx="494.8" cy="1859.3" r="0.4"/><circle cx="511.9" cy="1869.4" r="0.6"/><circle cx="557.4" cy="1864.7" r="0.7"/><circle cx="521.1" cy="1844.6" r="0.9"/><circle cx="556.7" cy="1937.9" r="0.7"/><circle cx="428.5" cy="1857.4" r="0.6"/><circle cx="434.6" cy="1925.2" r="0.6"/><circle cx="443.4" cy="1859.1" r="0.9"/><circle cx="460.1" cy="1864.6" r="0.9"/><circle cx="493.6" cy="1841.8" r="0.8"/><circle cx="450.4" cy="1868.6" r="0.5"/><circle cx="514.4" cy="1865.1" r="0.9"/><circle cx="514.5" cy="1892.1" r="0.4"/><circle cx="481.3" cy="1901.6" r="0.8"/><circle cx="549.5" cy="1826.0" r="0.8"/><circle cx="458.5" cy="1861.4" r="0.8"/><circle cx="429.7" cy="1866.3" r="0.5"/><circle cx="452.9" cy="1865.5" r="0.8"/><circle cx="421.2" cy="1939.6" r="0.5"/><circle cx="561.2" cy="1829.9" r="0.7"/><circle cx="550.8" cy="1909.8" r="0.4"/><circle cx="552.7" cy="1897.5" r="0.5"/><circle cx="426.3" cy="1937.6" r="0.6"/><circle cx="463.8" cy="1895.1" r="0.4"/><circle cx="492.4" cy="1898.3" r="0.9"/><circle cx="516.9" cy="1900.5" r="0.8"/><circle cx="442.4" cy="1938.0" r="0.5"/><circle cx="433.4" cy="1888.2" r="0.9"/><circle cx="481.3" cy="1937.1" r="0.9"/><circle cx="532.5" cy="1859.2" r="0.7"/><circle cx="496.4" cy="1948.6" r="0.8"/><circle cx="489.8" cy="1830.1" r="0.8"/><circle cx="558.7" cy="1832.6" r="0.7"/><circle cx="544.4" cy="1851.1" r="0.5"/><circle cx="505.8" cy="1913.2" r="0.7"/><circle cx="490.5" cy="1929.9" r="0.4"/><circle cx="427.6" cy="1956.6" r="0.8"/><circle cx="510.4" cy="1909.0" r="0.9"/><circle cx="451.7" cy="1846.2" r="0.6"/><circle cx="479.1" cy="1925.9" r="0.8"/><circle cx="524.8" cy="1938.2" r="0.8"/><circle cx="489.8" cy="1919.3" r="0.8"/><circle cx="442.1" cy="1862.0" r="0.5"/><circle cx="489.5" cy="1920.6" r="0.8"/><circle cx="531.9" cy="1833.9" r="0.7"/><circle cx="485.2" cy="1926.3" r="0.9"/><circle cx="558.7" cy="1831.1" r="0.7"/><circle cx="527.3" cy="1912.1" r="0.5"/><circle cx="438.1" cy="1891.0" r="0.9"/><circle cx="560.9" cy="1825.5" r="0.7"/><circle cx="547.0" cy="1845.5" r="0.7"/><circle cx="498.2" cy="1893.4" r="0.4"/><circle cx="558.9" cy="1923.6" r="0.9"/><circle cx="528.4" cy="1931.4" r="0.5"/><circle cx="460.2" cy="1842.2" r="0.5"/><circle cx="478.1" cy="1837.5" r="0.5"/><circle cx="470.1" cy="1873.9" r="0.8"/><circle cx="448.9" cy="1848.3" r="0.8"/><circle cx="511.9" cy="1833.5" r="0.6"/><circle cx="499.8" cy="1957.2" r="0.8"/><circle cx="551.9" cy="1850.7" r="0.7"/><circle cx="553.6" cy="1855.9" r="0.7"/><circle cx="531.1" cy="1856.2" r="0.6"/><circle cx="453.0" cy="1940.0" r="0.5"/><circle cx="487.1" cy="1883.0" r="0.8"/><circle cx="485.3" cy="1869.7" r="0.7"/><circle cx="488.6" cy="1915.9" r="0.5"/><circle cx="543.0" cy="1854.7" r="0.7"/><circle cx="478.2" cy="1831.8" r="0.6"/><circle cx="470.0" cy="1864.8" r="0.4"/><circle cx="492.8" cy="1932.5" r="0.8"/><circle cx="474.4" cy="1958.9" r="0.9"/><circle cx="448.8" cy="1840.0" r="0.4"/><circle cx="439.4" cy="1960.8" r="0.6"/><circle cx="437.0" cy="1859.9" r="0.4"/><circle cx="420.0" cy="1871.7" r="0.7"/><circle cx="482.7" cy="1948.9" r="0.7"/><circle cx="464.5" cy="1936.8" r="0.8"/><circle cx="514.7" cy="1868.8" r="0.8"/><circle cx="451.8" cy="1830.9" r="0.5"/><circle cx="492.0" cy="1843.5" r="0.5"/><circle cx="462.6" cy="1886.5" r="0.8"/><circle cx="518.3" cy="1900.0" r="0.8"/><circle cx="455.0" cy="1930.2" r="0.9"/><circle cx="472.0" cy="1952.6" r="0.6"/><circle cx="495.1" cy="1890.2" r="0.5"/><circle cx="473.4" cy="1950.6" r="0.5"/><circle cx="432.0" cy="1878.7" r="0.8"/><circle cx="448.5" cy="1830.9" r="0.4"/><circle cx="526.1" cy="1895.0" r="0.4"/><circle cx="535.1" cy="1966.5" r="0.6"/><circle cx="513.4" cy="1834.7" r="0.5"/><circle cx="498.5" cy="1876.2" r="0.4"/><circle cx="556.5" cy="1950.9" r="0.5"/><circle cx="531.4" cy="1862.6" r="0.7"/><circle cx="434.5" cy="1896.5" r="0.7"/><circle cx="473.0" cy="1872.6" r="0.7"/><circle cx="519.7" cy="1857.1" r="0.7"/><circle cx="446.5" cy="1936.4" r="0.6"/><circle cx="514.1" cy="1859.8" r="0.4"/><circle cx="525.4" cy="1956.6" r="0.5"/><circle cx="486.8" cy="1862.3" r="0.8"/><circle cx="462.0" cy="1957.6" r="0.7"/><circle cx="434.6" cy="1956.9" r="0.7"/><circle cx="456.7" cy="1879.7" r="0.8"/><circle cx="460.8" cy="1929.3" r="0.6"/><circle cx="427.6" cy="1830.1" r="0.6"/><circle cx="547.2" cy="1907.0" r="0.6"/><circle cx="536.0" cy="1953.6" r="0.9"/><circle cx="485.5" cy="1914.2" r="0.6"/><circle cx="421.5" cy="1927.6" r="0.5"/><circle cx="529.6" cy="1916.0" r="0.8"/><circle cx="496.3" cy="1913.9" r="0.4"/><circle cx="457.3" cy="1945.3" r="0.7"/><circle cx="472.8" cy="1956.9" r="0.4"/><circle cx="534.4" cy="1924.1" r="0.6"/><circle cx="462.1" cy="1877.3" r="0.4"/><circle cx="438.9" cy="1852.9" r="0.5"/><circle cx="454.7" cy="1856.9" r="0.8"/><circle cx="417.1" cy="1903.9" r="0.7"/><circle cx="417.5" cy="1904.3" r="0.9"/><circle cx="528.7" cy="1836.5" r="0.8"/><circle cx="546.1" cy="1925.2" r="0.6"/><circle cx="455.6" cy="1840.1" r="0.4"/><circle cx="462.8" cy="1928.8" r="0.9"/><circle cx="474.8" cy="1847.7" r="0.5"/><circle cx="537.4" cy="1848.1" r="0.8"/><circle cx="517.6" cy="1941.7" r="0.6"/><circle cx="471.0" cy="1866.4" r="0.9"/><circle cx="514.5" cy="1897.3" r="0.9"/><circle cx="453.4" cy="1872.1" r="0.5"/><circle cx="550.9" cy="1931.9" r="0.4"/><circle cx="561.4" cy="1943.6" r="0.9"/><circle cx="462.3" cy="1948.1" r="0.8"/><circle cx="529.7" cy="1894.7" r="0.5"/><circle cx="507.8" cy="1884.8" r="0.7"/><circle cx="424.8" cy="1861.8" r="0.8"/><circle cx="525.0" cy="1925.6" r="0.6"/><circle cx="521.5" cy="1861.5" r="0.9"/><circle cx="516.7" cy="1851.6" r="0.5"/><circle cx="540.0" cy="1945.1" r="0.8"/><circle cx="560.6" cy="1918.0" r="0.5"/><circle cx="508.0" cy="1945.5" r="0.5"/><circle cx="435.3" cy="1879.7" r="0.9"/><circle cx="459.6" cy="1919.5" r="0.4"/><circle cx="485.9" cy="1925.6" r="0.5"/><circle cx="456.1" cy="1864.3" r="0.6"/><circle cx="509.2" cy="1882.5" r="0.9"/><circle cx="561.4" cy="1832.1" r="0.9"/><circle cx="562.6" cy="1951.3" r="0.5"/><circle cx="458.8" cy="1931.0" r="0.4"/><circle cx="476.1" cy="1956.2" r="0.8"/><circle cx="541.9" cy="1849.8" r="0.4"/><circle cx="462.1" cy="1941.1" r="0.9"/><circle cx="458.4" cy="1881.8" r="0.8"/><circle cx="476.6" cy="1845.6" r="0.8"/><circle cx="473.8" cy="1925.6" r="0.8"/><circle cx="458.3" cy="1950.7" r="0.7"/><circle cx="442.6" cy="1840.5" r="0.6"/><circle cx="545.6" cy="1887.7" r="0.5"/><circle cx="464.3" cy="1827.8" r="0.8"/><circle cx="500.0" cy="1864.7" r="0.7"/><circle cx="457.0" cy="1858.0" r="0.7"/><circle cx="446.4" cy="1905.0" r="0.8"/><circle cx="424.5" cy="1834.3" r="0.6"/><circle cx="514.9" cy="1825.6" r="0.6"/><circle cx="487.6" cy="1969.6" r="0.5"/><circle cx="561.8" cy="1884.2" r="0.4"/><circle cx="477.5" cy="1942.0" r="0.7"/><circle cx="498.4" cy="1856.2" r="0.8"/><circle cx="512.9" cy="1915.3" r="0.6"/><circle cx="444.5" cy="1867.2" r="0.5"/><circle cx="562.2" cy="1889.3" r="0.9"/><circle cx="423.9" cy="1949.3" r="0.5"/><circle cx="495.7" cy="1922.9" r="0.6"/><circle cx="469.4" cy="1934.3" r="0.6"/><circle cx="426.2" cy="1892.5" r="0.5"/><circle cx="426.3" cy="1877.9" r="0.8"/><circle cx="455.7" cy="1860.5" r="0.9"/><circle cx="489.3" cy="1869.7" r="0.8"/><circle cx="537.8" cy="1936.3" r="0.4"/><circle cx="553.7" cy="1894.9" r="0.9"/><circle cx="476.6" cy="1955.4" r="0.8"/><circle cx="420.4" cy="1908.6" r="0.5"/><circle cx="464.2" cy="1930.0" r="0.8"/><circle cx="512.9" cy="1942.6" r="0.6"/><circle cx="508.5" cy="1890.2" r="0.6"/><circle cx="457.8" cy="1956.2" r="0.6"/><circle cx="503.8" cy="1863.4" r="0.5"/><circle cx="525.3" cy="1855.6" r="0.9"/><circle cx="436.1" cy="1869.2" r="0.5"/><circle cx="442.9" cy="1840.3" r="0.5"/><circle cx="471.4" cy="1851.4" r="0.4"/><circle cx="418.4" cy="1897.9" r="0.7"/><circle cx="430.8" cy="1962.8" r="0.5"/><circle cx="420.0" cy="1850.3" r="0.4"/><circle cx="527.1" cy="1840.7" r="0.6"/><circle cx="479.8" cy="1964.6" r="0.5"/><circle cx="489.9" cy="1938.2" r="0.5"/><circle cx="535.6" cy="1835.1" r="0.7"/><circle cx="555.4" cy="1871.7" r="0.5"/><circle cx="530.5" cy="1901.1" r="0.4"/><circle cx="438.6" cy="1917.0" r="0.7"/><circle cx="550.0" cy="1833.0" r="0.8"/><circle cx="507.0" cy="1953.7" r="0.9"/><circle cx="508.8" cy="1898.2" r="0.8"/><circle cx="552.0" cy="1842.6" r="0.9"/><circle cx="517.7" cy="1890.7" r="0.9"/><circle cx="485.2" cy="1946.3" r="0.8"/><circle cx="450.6" cy="1912.1" r="0.8"/><circle cx="423.2" cy="1958.4" r="0.8"/><circle cx="508.6" cy="1889.8" r="0.8"/><circle cx="423.7" cy="1832.9" r="0.6"/><circle cx="439.2" cy="1893.0" r="0.6"/><circle cx="524.7" cy="1870.4" r="0.9"/><circle cx="485.5" cy="1905.0" r="0.4"/><circle cx="543.7" cy="1843.4" r="0.7"/><circle cx="433.2" cy="1852.1" r="0.9"/><circle cx="532.3" cy="1845.6" r="0.4"/><circle cx="533.5" cy="1899.2" r="0.6"/><circle cx="426.5" cy="1951.2" r="0.9"/><circle cx="467.0" cy="1900.1" r="0.6"/><circle cx="483.3" cy="1902.8" r="0.7"/><circle cx="445.6" cy="1865.5" r="0.9"/><circle cx="451.8" cy="1840.6" r="0.7"/><circle cx="531.9" cy="1896.2" r="0.5"/><circle cx="427.5" cy="1897.0" r="0.4"/><circle cx="529.5" cy="1904.6" r="0.4"/><circle cx="533.3" cy="1847.0" r="0.6"/><circle cx="443.1" cy="1873.4" r="0.6"/><circle cx="556.5" cy="1856.8" r="0.6"/><circle cx="434.1" cy="1851.3" r="0.7"/><circle cx="421.5" cy="1923.9" r="0.7"/><circle cx="548.7" cy="1835.4" r="0.9"/><circle cx="447.2" cy="1916.2" r="0.9"/><circle cx="558.6" cy="1906.2" r="0.7"/><circle cx="472.2" cy="1943.4" r="0.9"/><circle cx="463.0" cy="1916.3" r="0.6"/><circle cx="513.1" cy="1855.2" r="0.5"/><circle cx="443.4" cy="1843.6" r="0.9"/><circle cx="501.8" cy="1831.0" r="0.6"/><circle cx="433.9" cy="1961.4" r="0.8"/><circle cx="507.9" cy="1869.5" r="0.4"/><circle cx="562.2" cy="1925.3" r="0.9"/><circle cx="521.8" cy="1951.2" r="0.7"/><circle cx="446.2" cy="1835.4" r="0.6"/><circle cx="479.0" cy="1943.9" r="0.7"/><circle cx="457.8" cy="1844.4" r="0.4"/><circle cx="554.5" cy="1875.2" r="0.9"/><circle cx="478.0" cy="1896.4" r="0.4"/><circle cx="458.6" cy="1951.5" r="0.6"/><circle cx="556.0" cy="1836.3" r="0.9"/><circle cx="483.4" cy="1960.4" r="0.7"/><circle cx="446.0" cy="1885.0" r="0.5"/><circle cx="482.5" cy="1834.3" r="0.7"/><circle cx="465.7" cy="1909.7" r="0.9"/><circle cx="556.4" cy="1867.5" r="0.9"/><circle cx="418.9" cy="1913.5" r="0.4"/><circle cx="477.1" cy="1844.2" r="0.6"/><circle cx="473.7" cy="1865.4" r="0.4"/><circle cx="536.8" cy="1948.3" r="0.8"/><circle cx="432.2" cy="1920.3" r="0.7"/><circle cx="547.9" cy="1837.8" r="0.6"/><circle cx="419.4" cy="1829.4" r="0.8"/><circle cx="514.7" cy="1874.9" r="0.4"/><circle cx="514.5" cy="1847.6" r="0.4"/><circle cx="469.8" cy="1892.4" r="0.6"/><circle cx="487.0" cy="1919.5" r="0.4"/><circle cx="558.7" cy="1966.6" r="0.7"/><circle cx="480.3" cy="1858.3" r="0.8"/><circle cx="519.4" cy="1969.7" r="0.4"/><circle cx="563.0" cy="1920.1" r="0.9"/><circle cx="553.1" cy="1900.1" r="0.8"/><circle cx="447.6" cy="1878.6" r="0.5"/><circle cx="492.3" cy="1838.9" r="0.4"/><circle cx="417.5" cy="1964.0" r="0.9"/><circle cx="508.0" cy="1932.6" r="0.6"/><circle cx="513.9" cy="1965.6" r="0.7"/><circle cx="530.3" cy="1842.4" r="0.7"/><circle cx="439.7" cy="1878.8" r="0.6"/><circle cx="554.9" cy="1954.9" r="0.4"/><circle cx="432.9" cy="1884.9" r="0.8"/><circle cx="494.9" cy="1841.1" r="0.4"/><circle cx="461.0" cy="1898.6" r="0.4"/><circle cx="426.9" cy="1859.5" r="0.9"/><circle cx="429.9" cy="1899.3" r="0.6"/><circle cx="468.5" cy="1860.7" r="0.8"/><circle cx="477.4" cy="1832.9" r="0.5"/><circle cx="503.0" cy="1849.7" r="0.4"/><circle cx="484.1" cy="1948.4" r="0.4"/><circle cx="535.2" cy="1898.0" r="0.5"/><circle cx="558.7" cy="1901.1" r="0.7"/><circle cx="507.2" cy="1964.7" r="0.9"/><circle cx="557.7" cy="1884.9" r="0.4"/><circle cx="450.4" cy="1940.6" r="0.4"/><circle cx="524.2" cy="1928.3" r="0.5"/><circle cx="459.9" cy="1914.7" r="0.7"/><circle cx="433.1" cy="1868.6" r="0.8"/><circle cx="510.9" cy="1947.9" r="0.4"/><circle cx="473.9" cy="1868.4" r="0.5"/><circle cx="455.1" cy="1841.2" r="0.7"/><circle cx="465.0" cy="1895.9" r="0.9"/><circle cx="562.0" cy="1906.2" r="0.5"/><circle cx="499.9" cy="1897.6" r="0.4"/><circle cx="474.6" cy="1868.4" r="0.9"/><circle cx="504.6" cy="1856.9" r="0.4"/><circle cx="479.7" cy="1894.1" r="0.6"/><circle cx="511.7" cy="1873.4" r="0.4"/><circle cx="424.2" cy="1946.2" r="0.4"/><circle cx="440.8" cy="1880.4" r="0.6"/><circle cx="475.4" cy="1857.3" r="0.4"/><circle cx="521.1" cy="1829.7" r="0.6"/><circle cx="487.7" cy="1858.4" r="0.9"/><circle cx="493.9" cy="1931.3" r="0.6"/><circle cx="476.4" cy="1965.1" r="0.4"/><circle cx="517.4" cy="1876.8" r="0.5"/><circle cx="470.4" cy="1911.7" r="0.6"/><circle cx="539.7" cy="1855.4" r="0.8"/><circle cx="425.2" cy="1851.6" r="0.4"/><circle cx="492.4" cy="1934.3" r="0.4"/><circle cx="541.9" cy="1855.9" r="0.8"/><circle cx="456.4" cy="1940.4" r="0.7"/><circle cx="511.5" cy="1879.1" r="0.4"/><circle cx="458.7" cy="1923.6" r="0.4"/><circle cx="474.9" cy="1857.7" r="0.6"/><circle cx="464.9" cy="1871.0" r="0.5"/><circle cx="532.1" cy="1918.1" r="0.4"/><circle cx="563.0" cy="1896.1" r="0.7"/><circle cx="508.2" cy="1905.1" r="0.6"/><circle cx="510.2" cy="1828.2" r="0.9"/><circle cx="526.9" cy="1909.1" r="0.4"/><circle cx="537.3" cy="1894.5" r="0.6"/><circle cx="516.2" cy="1967.6" r="0.4"/><circle cx="442.2" cy="1837.1" r="0.9"/><circle cx="526.7" cy="1879.8" r="0.7"/><circle cx="515.9" cy="1941.2" r="0.7"/><circle cx="463.7" cy="1931.5" r="0.4"/><circle cx="539.0" cy="1963.7" r="0.6"/><circle cx="514.3" cy="1904.5" r="0.4"/><circle cx="519.6" cy="1882.6" r="0.9"/><circle cx="556.3" cy="1906.2" r="0.5"/><circle cx="431.2" cy="1872.0" r="0.5"/><circle cx="539.5" cy="1842.9" r="0.6"/><circle cx="486.0" cy="1829.5" r="0.7"/><circle cx="552.8" cy="1854.0" r="0.9"/><circle cx="552.5" cy="1896.6" r="0.9"/><circle cx="533.6" cy="1899.2" r="0.7"/><circle cx="432.4" cy="1932.6" r="0.5"/><circle cx="529.9" cy="1872.0" r="0.4"/><circle cx="467.6" cy="1848.8" r="0.6"/><circle cx="472.0" cy="1941.4" r="0.9"/><circle cx="473.7" cy="1908.3" r="0.7"/><circle cx="469.3" cy="1909.7" r="0.7"/><circle cx="519.8" cy="1882.5" r="0.4"/><circle cx="518.8" cy="1858.9" r="0.6"/><circle cx="468.2" cy="1884.6" r="0.4"/><circle cx="454.5" cy="1834.3" r="0.6"/><circle cx="472.1" cy="1928.9" r="0.7"/><circle cx="549.6" cy="1834.5" r="0.5"/><circle cx="559.5" cy="1956.9" r="0.7"/><circle cx="473.5" cy="1842.0" r="0.5"/><circle cx="527.0" cy="1839.8" r="0.6"/><circle cx="490.1" cy="1846.8" r="0.9"/><circle cx="468.4" cy="1848.1" r="0.7"/><circle cx="465.6" cy="1847.0" r="0.6"/><circle cx="534.6" cy="1839.2" r="0.5"/><circle cx="448.9" cy="1853.9" r="0.8"/><circle cx="524.7" cy="1874.9" r="0.5"/><circle cx="528.7" cy="1909.5" r="0.6"/><circle cx="517.6" cy="1877.8" r="0.9"/><circle cx="534.8" cy="1913.2" r="0.9"/><circle cx="560.4" cy="1841.0" r="0.6"/><circle cx="420.0" cy="1902.9" r="0.6"/><circle cx="514.5" cy="1866.5" r="0.8"/><circle cx="436.2" cy="1895.3" r="0.6"/><circle cx="421.2" cy="1940.1" r="0.8"/><circle cx="439.2" cy="1881.5" r="0.8"/><circle cx="541.8" cy="1913.4" r="0.8"/><circle cx="533.8" cy="1848.6" r="0.9"/><circle cx="519.6" cy="1910.4" r="0.9"/><circle cx="454.9" cy="1832.9" r="0.6"/><circle cx="512.2" cy="1903.7" r="0.7"/><circle cx="483.1" cy="1878.7" r="0.9"/><circle cx="448.6" cy="1917.8" r="0.6"/><circle cx="499.6" cy="1875.6" r="0.5"/><circle cx="428.0" cy="1904.7" r="0.8"/><circle cx="554.3" cy="1920.3" r="0.4"/><circle cx="461.1" cy="1825.4" r="0.8"/><circle cx="557.3" cy="1853.3" r="0.6"/><circle cx="462.2" cy="1951.5" r="0.4"/><circle cx="555.6" cy="1921.4" r="0.5"/><circle cx="421.3" cy="1907.8" r="0.9"/><circle cx="559.2" cy="1966.3" r="0.8"/><circle cx="496.2" cy="1888.3" r="0.9"/><circle cx="443.9" cy="1901.4" r="0.6"/><circle cx="506.4" cy="1959.2" r="0.9"/><circle cx="431.9" cy="1845.2" r="0.5"/><circle cx="428.5" cy="1895.6" r="0.8"/><circle cx="554.2" cy="1955.3" r="0.4"/><circle cx="436.7" cy="1868.5" r="0.6"/><circle cx="449.0" cy="1864.5" r="0.5"/><circle cx="559.5" cy="1962.7" r="0.5"/><circle cx="542.4" cy="1960.6" r="0.4"/><circle cx="505.9" cy="1940.3" r="0.9"/><circle cx="500.4" cy="1955.3" r="0.6"/><circle cx="553.3" cy="1837.5" r="0.8"/><circle cx="439.9" cy="1957.4" r="0.4"/><circle cx="433.3" cy="1951.0" r="0.4"/><circle cx="477.5" cy="1846.6" r="0.5"/><circle cx="517.5" cy="1900.4" r="0.8"/><circle cx="528.9" cy="1922.3" r="0.4"/><circle cx="417.1" cy="1834.8" r="0.5"/><circle cx="559.4" cy="1945.8" r="0.7"/><circle cx="468.2" cy="1856.8" r="0.7"/><circle cx="419.2" cy="1936.7" r="0.6"/><circle cx="424.0" cy="1878.6" r="0.9"/><circle cx="466.0" cy="1922.9" r="0.7"/><circle cx="512.1" cy="1960.0" r="0.7"/><circle cx="442.7" cy="1846.7" r="0.6"/><circle cx="482.9" cy="1857.0" r="0.6"/><circle cx="444.0" cy="1923.3" r="0.8"/><circle cx="455.0" cy="1900.8" r="0.6"/><circle cx="500.7" cy="1828.2" r="0.6"/><circle cx="450.9" cy="1868.7" r="0.6"/><circle cx="524.9" cy="1854.6" r="0.4"/><circle cx="532.4" cy="1903.3" r="0.4"/><circle cx="517.0" cy="1898.0" r="0.7"/><circle cx="448.8" cy="1885.1" r="0.5"/><circle cx="471.1" cy="1876.7" r="0.4"/><circle cx="561.6" cy="1881.1" r="0.5"/><circle cx="478.2" cy="1922.2" r="0.5"/><circle cx="466.4" cy="1939.6" r="0.7"/><circle cx="549.4" cy="1906.5" r="0.9"/><circle cx="427.0" cy="1966.3" r="0.4"/><circle cx="424.6" cy="1829.8" r="0.4"/><circle cx="479.0" cy="1848.0" r="0.4"/><circle cx="447.0" cy="1952.3" r="0.5"/><circle cx="553.0" cy="1874.6" r="0.5"/><circle cx="437.7" cy="1928.6" r="0.4"/><circle cx="445.1" cy="1844.7" r="0.9"/><circle cx="451.6" cy="1948.1" r="0.9"/><circle cx="483.2" cy="1879.0" r="0.4"/><circle cx="551.9" cy="1846.2" r="0.4"/><circle cx="560.6" cy="1930.2" r="0.9"/><circle cx="424.2" cy="1869.5" r="0.5"/><circle cx="502.0" cy="1864.7" r="0.8"/><circle cx="495.9" cy="1907.3" r="0.8"/><circle cx="455.2" cy="1838.4" r="0.9"/><circle cx="449.5" cy="1836.1" r="0.6"/><circle cx="559.4" cy="1960.4" r="0.9"/><circle cx="490.6" cy="1848.2" r="0.6"/><circle cx="510.2" cy="1840.2" r="0.7"/><circle cx="532.7" cy="1966.0" r="0.7"/><circle cx="468.1" cy="1969.6" r="0.7"/><circle cx="484.9" cy="1852.7" r="0.7"/><circle cx="559.8" cy="1828.5" r="0.8"/><circle cx="475.5" cy="1832.5" r="0.5"/><circle cx="423.6" cy="1883.2" r="0.5"/><circle cx="557.3" cy="1828.5" r="0.7"/><circle cx="533.7" cy="1897.4" r="0.9"/><circle cx="426.2" cy="1828.6" r="0.6"/><circle cx="419.2" cy="1869.1" r="0.4"/><circle cx="466.1" cy="1947.9" r="0.8"/><circle cx="470.9" cy="1893.6" r="0.8"/><circle cx="525.5" cy="1849.1" r="0.5"/><circle cx="546.0" cy="1909.2" r="0.7"/><circle cx="479.7" cy="1910.1" r="0.6"/><circle cx="465.5" cy="1957.5" r="0.5"/><circle cx="515.9" cy="1915.2" r="0.9"/><circle cx="440.7" cy="1898.8" r="0.6"/><circle cx="528.7" cy="1960.4" r="0.6"/><circle cx="451.3" cy="1909.6" r="0.5"/><circle cx="519.5" cy="1874.3" r="0.9"/><circle cx="431.2" cy="1924.7" r="0.6"/><circle cx="487.0" cy="1841.3" r="0.9"/><circle cx="551.7" cy="1899.6" r="0.7"/><circle cx="517.1" cy="1921.1" r="0.7"/><circle cx="456.3" cy="1908.3" r="0.9"/><circle cx="500.0" cy="1833.2" r="0.6"/><circle cx="489.6" cy="1894.9" r="0.9"/><circle cx="437.9" cy="1828.9" r="0.8"/><circle cx="481.6" cy="1837.3" r="0.4"/><circle cx="451.2" cy="1945.2" r="0.4"/><circle cx="454.2" cy="1955.9" r="0.8"/><circle cx="431.9" cy="1876.2" r="0.4"/><circle cx="555.1" cy="1896.0" r="0.7"/><circle cx="439.1" cy="1870.8" r="0.9"/><circle cx="490.4" cy="1874.7" r="0.5"/><circle cx="511.4" cy="1925.0" r="0.7"/><circle cx="534.3" cy="1966.9" r="0.5"/><circle cx="517.0" cy="1940.6" r="0.9"/><circle cx="456.9" cy="1868.2" r="0.5"/><circle cx="434.2" cy="1894.0" r="0.9"/><circle cx="452.6" cy="1958.3" r="0.4"/><circle cx="556.6" cy="1920.4" r="0.7"/><circle cx="532.6" cy="1913.5" r="0.7"/><circle cx="553.1" cy="1918.4" r="0.4"/><circle cx="559.5" cy="1848.2" r="0.6"/><circle cx="560.4" cy="1951.3" r="0.6"/><circle cx="454.1" cy="1913.5" r="0.6"/><circle cx="560.8" cy="1915.3" r="0.5"/><circle cx="526.4" cy="1922.0" r="0.7"/><circle cx="543.7" cy="1936.5" r="0.4"/><circle cx="500.1" cy="1961.8" r="0.9"/><circle cx="552.0" cy="1857.6" r="0.9"/><circle cx="468.6" cy="1828.3" r="0.5"/><circle cx="490.0" cy="1967.0" r="0.5"/><circle cx="512.4" cy="1937.4" r="0.9"/><circle cx="439.4" cy="1887.5" r="0.7"/><circle cx="456.8" cy="1852.2" r="0.9"/><circle cx="456.0" cy="1936.9" r="0.4"/><circle cx="465.3" cy="1959.4" r="0.4"/><circle cx="459.4" cy="1963.0" r="0.8"/><circle cx="461.2" cy="1892.3" r="0.4"/><circle cx="465.7" cy="1865.5" r="0.8"/><circle cx="561.8" cy="1834.6" r="0.4"/><circle cx="542.9" cy="1902.6" r="0.7"/><circle cx="527.5" cy="1901.3" r="0.6"/><circle cx="446.1" cy="1909.2" r="0.5"/><circle cx="480.4" cy="1882.8" r="0.6"/><circle cx="424.6" cy="1876.5" r="0.8"/><circle cx="542.5" cy="1949.2" r="0.8"/><circle cx="477.5" cy="1884.0" r="0.5"/><circle cx="532.3" cy="1957.9" r="0.4"/><circle cx="434.8" cy="1887.8" r="0.9"/><circle cx="477.7" cy="1916.2" r="0.9"/><circle cx="552.0" cy="1897.5" r="0.6"/><circle cx="502.6" cy="1885.9" r="0.4"/><circle cx="494.0" cy="1852.5" r="0.4"/><circle cx="506.8" cy="1851.6" r="0.6"/><circle cx="531.9" cy="1909.8" r="0.6"/><circle cx="456.2" cy="1940.6" r="0.4"/><circle cx="520.1" cy="1891.2" r="0.7"/><circle cx="559.5" cy="1963.0" r="0.5"/><circle cx="556.4" cy="1953.8" r="0.4"/><circle cx="497.4" cy="1825.3" r="0.7"/><circle cx="518.4" cy="1888.5" r="0.5"/><circle cx="562.3" cy="1897.2" r="0.9"/><circle cx="452.7" cy="1943.2" r="0.5"/><circle cx="516.5" cy="1914.3" r="0.4"/><circle cx="429.7" cy="1906.8" r="0.5"/><circle cx="425.0" cy="1893.7" r="0.4"/><circle cx="472.9" cy="1932.7" r="0.9"/><circle cx="485.4" cy="1840.3" r="0.5"/><circle cx="541.4" cy="1895.6" r="0.8"/><circle cx="544.6" cy="1959.3" r="0.9"/><circle cx="434.5" cy="1869.1" r="0.5"/><circle cx="539.0" cy="1929.5" r="0.8"/><circle cx="476.9" cy="1882.8" r="0.5"/><circle cx="454.6" cy="1939.7" r="0.9"/><circle cx="456.1" cy="1855.0" r="0.9"/><circle cx="480.8" cy="1890.7" r="0.6"/><circle cx="447.8" cy="1828.4" r="0.6"/><circle cx="507.8" cy="1837.9" r="0.9"/><circle cx="486.1" cy="1952.5" r="0.7"/><circle cx="513.3" cy="1923.3" r="0.8"/><circle cx="559.6" cy="1938.9" r="0.7"/><circle cx="546.4" cy="1835.9" r="0.5"/><circle cx="460.3" cy="1930.0" r="0.8"/><circle cx="512.7" cy="1922.0" r="0.7"/><circle cx="448.1" cy="1868.3" r="0.8"/><circle cx="529.5" cy="1903.2" r="0.9"/><circle cx="466.9" cy="1928.2" r="0.4"/><circle cx="539.6" cy="1875.0" r="0.7"/><circle cx="454.9" cy="1914.0" r="0.5"/><circle cx="543.1" cy="1868.5" r="0.5"/><circle cx="526.1" cy="1887.9" r="0.7"/><circle cx="502.1" cy="1944.1" r="0.9"/><circle cx="474.1" cy="1910.6" r="0.9"/><circle cx="521.0" cy="1874.3" r="0.6"/><circle cx="501.5" cy="1861.5" r="0.9"/><circle cx="516.4" cy="1884.1" r="0.5"/><circle cx="561.1" cy="1844.8" r="0.8"/><circle cx="464.4" cy="1930.4" r="0.4"/><circle cx="457.1" cy="1907.2" r="0.8"/><circle cx="556.2" cy="1872.4" r="0.9"/><circle cx="532.8" cy="1896.7" r="0.7"/><circle cx="459.2" cy="1941.9" r="0.7"/><circle cx="515.7" cy="1839.2" r="0.4"/><circle cx="484.2" cy="1901.8" r="0.7"/><circle cx="500.1" cy="1963.3" r="0.6"/><circle cx="480.2" cy="1832.5" r="0.4"/><circle cx="460.9" cy="1925.3" r="0.9"/><circle cx="470.1" cy="1856.3" r="0.9"/><circle cx="456.9" cy="1877.0" r="0.8"/><circle cx="492.0" cy="1903.2" r="0.7"/><circle cx="513.0" cy="1846.5" r="0.6"/><circle cx="508.5" cy="1946.0" r="0.8"/><circle cx="453.5" cy="1850.8" r="0.4"/><circle cx="549.9" cy="1917.4" r="0.4"/><circle cx="524.9" cy="1863.3" r="0.7"/><circle cx="425.4" cy="1909.5" r="0.9"/><circle cx="536.6" cy="1949.6" r="0.5"/><circle cx="508.2" cy="1877.5" r="0.6"/><circle cx="466.2" cy="1952.4" r="0.5"/><circle cx="540.5" cy="1926.7" r="0.4"/><circle cx="481.5" cy="1942.8" r="0.8"/><circle cx="458.1" cy="1898.3" r="0.6"/><circle cx="449.6" cy="1857.3" r="0.8"/><circle cx="463.6" cy="1918.9" r="0.6"/><circle cx="532.0" cy="1953.6" r="0.5"/><circle cx="537.8" cy="1957.7" r="0.9"/><circle cx="528.5" cy="1893.6" r="0.8"/><circle cx="520.1" cy="1856.3" r="0.6"/><circle cx="544.4" cy="1857.8" r="0.6"/><circle cx="425.6" cy="1896.5" r="0.9"/><circle cx="423.9" cy="1925.9" r="0.4"/><circle cx="528.9" cy="1923.6" r="0.8"/><circle cx="420.6" cy="1872.0" r="0.8"/><circle cx="468.6" cy="1967.8" r="0.8"/><circle cx="494.9" cy="1881.1" r="0.4"/><circle cx="478.0" cy="1956.8" r="0.8"/><circle cx="442.8" cy="1864.5" r="0.9"/><circle cx="439.3" cy="1923.4" r="0.4"/><circle cx="485.2" cy="1866.9" r="0.8"/><circle cx="420.0" cy="1861.2" r="0.4"/><circle cx="453.3" cy="1867.4" r="0.6"/><circle cx="419.2" cy="1877.8" r="0.7"/><circle cx="503.4" cy="1864.0" r="0.4"/><circle cx="440.7" cy="1839.0" r="0.9"/><circle cx="491.7" cy="1870.2" r="0.8"/><circle cx="533.7" cy="1889.4" r="0.9"/><circle cx="490.1" cy="1884.9" r="0.7"/><circle cx="469.9" cy="1863.5" r="0.7"/><circle cx="494.2" cy="1902.3" r="0.5"/><circle cx="458.6" cy="1867.9" r="0.7"/><circle cx="421.7" cy="1940.5" r="0.8"/><circle cx="483.6" cy="1900.7" r="0.6"/><circle cx="543.8" cy="1946.2" r="0.9"/><circle cx="484.6" cy="1878.8" r="0.7"/><circle cx="430.2" cy="1897.7" r="0.5"/><circle cx="545.5" cy="1968.7" r="0.5"/><circle cx="427.9" cy="1860.8" r="0.6"/><circle cx="496.4" cy="1899.6" r="0.6"/><circle cx="422.7" cy="1867.0" r="0.6"/><circle cx="561.6" cy="1836.0" r="0.4"/><circle cx="419.0" cy="1846.5" r="0.7"/><circle cx="521.4" cy="1933.9" r="0.7"/><circle cx="499.1" cy="1961.2" r="0.7"/><circle cx="503.4" cy="1904.3" r="0.4"/><circle cx="502.0" cy="1850.1" r="0.7"/><circle cx="525.7" cy="1860.1" r="0.7"/><circle cx="448.7" cy="1889.8" r="0.8"/><circle cx="535.6" cy="1968.5" r="0.9"/><circle cx="506.7" cy="1826.8" r="0.9"/><circle cx="512.9" cy="1856.1" r="0.4"/><circle cx="452.4" cy="1870.1" r="0.5"/><circle cx="556.8" cy="1906.0" r="0.4"/><circle cx="559.6" cy="1851.7" r="0.5"/><circle cx="535.9" cy="1930.0" r="0.5"/><circle cx="425.4" cy="1830.0" r="0.9"/><circle cx="437.5" cy="1854.3" r="0.4"/><circle cx="525.1" cy="1953.5" r="0.9"/><circle cx="556.9" cy="1871.6" r="0.6"/><circle cx="548.6" cy="1932.6" r="0.6"/><circle cx="509.7" cy="1914.2" r="0.9"/><circle cx="423.4" cy="1906.7" r="0.7"/><circle cx="545.3" cy="1920.2" r="0.7"/><circle cx="521.4" cy="1851.9" r="0.7"/><circle cx="512.6" cy="1830.1" r="0.8"/><circle cx="457.7" cy="1958.0" r="0.9"/><circle cx="429.1" cy="1861.5" r="0.9"/><circle cx="451.6" cy="1867.0" r="0.9"/><circle cx="519.3" cy="1967.1" r="0.9"/><circle cx="512.1" cy="1925.3" r="0.9"/><circle cx="463.7" cy="1826.0" r="0.7"/><circle cx="488.8" cy="1880.7" r="0.8"/><circle cx="454.0" cy="1842.0" r="0.6"/><circle cx="560.5" cy="1878.8" r="0.6"/><circle cx="473.8" cy="1961.7" r="0.9"/><circle cx="550.5" cy="1851.2" r="0.8"/><circle cx="418.7" cy="1920.4" r="0.9"/><circle cx="499.5" cy="1859.6" r="0.5"/><circle cx="487.7" cy="1831.2" r="0.8"/><circle cx="543.2" cy="1829.9" r="0.5"/><circle cx="473.0" cy="1857.7" r="0.7"/><circle cx="507.5" cy="1933.1" r="0.6"/><circle cx="522.5" cy="1832.5" r="0.4"/><circle cx="438.6" cy="1848.5" r="0.4"/><circle cx="547.9" cy="1860.0" r="0.9"/><circle cx="472.6" cy="1837.5" r="0.4"/><circle cx="437.3" cy="1874.6" r="0.4"/><circle cx="503.5" cy="1858.3" r="0.5"/><circle cx="444.9" cy="1841.3" r="0.5"/><circle cx="427.8" cy="1900.7" r="0.4"/><circle cx="441.6" cy="1902.7" r="0.7"/><circle cx="476.8" cy="1879.8" r="0.9"/><circle cx="491.2" cy="1881.3" r="0.7"/><circle cx="461.9" cy="1968.2" r="0.4"/><circle cx="445.2" cy="1873.7" r="0.4"/><circle cx="478.7" cy="1939.4" r="0.7"/><circle cx="459.3" cy="1866.5" r="0.9"/><circle cx="436.3" cy="1880.6" r="0.9"/><circle cx="545.7" cy="1959.1" r="0.4"/><circle cx="549.6" cy="1830.9" r="0.6"/><circle cx="460.4" cy="1860.4" r="0.4"/><circle cx="519.1" cy="1959.1" r="0.5"/><circle cx="508.7" cy="1950.4" r="0.6"/><circle cx="528.8" cy="1841.3" r="0.4"/><circle cx="525.1" cy="1950.6" r="0.6"/><circle cx="503.2" cy="1923.1" r="0.8"/><circle cx="548.1" cy="1908.7" r="0.6"/><circle cx="562.9" cy="1946.7" r="0.9"/><circle cx="456.4" cy="1907.9" r="0.6"/><circle cx="475.9" cy="1906.8" r="0.5"/><circle cx="530.5" cy="1920.0" r="0.7"/><circle cx="508.8" cy="1865.6" r="0.6"/><circle cx="556.5" cy="1881.5" r="0.6"/><circle cx="482.3" cy="1949.3" r="0.4"/><circle cx="455.3" cy="1878.0" r="0.9"/><circle cx="505.4" cy="1903.6" r="0.6"/><circle cx="446.0" cy="1905.7" r="0.6"/><circle cx="524.1" cy="1841.7" r="0.9"/><circle cx="417.3" cy="1872.6" r="0.6"/><circle cx="485.5" cy="1898.5" r="0.4"/><circle cx="426.5" cy="1928.8" r="0.5"/><circle cx="534.0" cy="1850.8" r="0.7"/><circle cx="542.1" cy="1960.6" r="0.7"/><circle cx="456.2" cy="1906.5" r="0.5"/><circle cx="462.7" cy="1932.5" r="0.7"/><circle cx="495.6" cy="1914.7" r="0.9"/><circle cx="558.1" cy="1854.4" r="0.8"/><circle cx="504.5" cy="1924.4" r="0.7"/><circle cx="477.4" cy="1851.6" r="0.9"/><circle cx="445.4" cy="1922.6" r="0.6"/><circle cx="558.3" cy="1833.4" r="0.4"/><circle cx="553.3" cy="1845.2" r="0.9"/><circle cx="537.4" cy="1924.1" r="0.8"/><circle cx="483.5" cy="1946.3" r="0.4"/><circle cx="425.4" cy="1919.0" r="0.7"/><circle cx="450.5" cy="1829.3" r="0.5"/><circle cx="541.5" cy="1848.2" r="0.6"/><circle cx="435.7" cy="1912.5" r="0.6"/><circle cx="551.1" cy="1879.1" r="0.9"/><circle cx="523.4" cy="1953.2" r="0.8"/><circle cx="510.2" cy="1859.9" r="0.4"/><circle cx="515.9" cy="1966.4" r="0.6"/><circle cx="481.8" cy="1866.5" r="0.7"/><circle cx="485.4" cy="1826.6" r="0.7"/><circle cx="541.4" cy="1894.9" r="0.8"/><circle cx="439.9" cy="1863.6" r="0.8"/><circle cx="436.2" cy="1913.0" r="0.9"/><circle cx="431.1" cy="1964.0" r="0.9"/><circle cx="459.4" cy="1891.1" r="0.8"/><circle cx="478.3" cy="1865.5" r="0.9"/><circle cx="487.7" cy="1882.7" r="0.7"/><circle cx="541.8" cy="1836.7" r="0.4"/><circle cx="423.8" cy="1882.9" r="0.4"/><circle cx="557.5" cy="1963.2" r="0.7"/><circle cx="438.8" cy="1886.4" r="0.8"/><circle cx="450.6" cy="1846.5" r="0.9"/><circle cx="460.1" cy="1878.3" r="0.5"/><circle cx="523.4" cy="1825.5" r="0.5"/><circle cx="487.5" cy="1844.2" r="0.5"/><circle cx="433.6" cy="1952.2" r="0.9"/><circle cx="426.4" cy="1922.9" r="0.5"/><circle cx="465.6" cy="1851.6" r="0.4"/><circle cx="458.1" cy="1832.1" r="0.9"/><circle cx="438.0" cy="1938.1" r="0.4"/><circle cx="497.7" cy="1966.5" r="0.6"/><circle cx="485.6" cy="1955.6" r="0.5"/><circle cx="538.0" cy="1957.1" r="0.5"/><circle cx="485.7" cy="1868.7" r="0.7"/><circle cx="447.4" cy="1918.3" r="0.4"/><circle cx="478.2" cy="1847.8" r="0.7"/><circle cx="507.2" cy="1871.5" r="0.9"/><circle cx="477.8" cy="1959.9" r="0.4"/><circle cx="536.2" cy="1859.6" r="0.8"/><circle cx="492.2" cy="1904.2" r="0.6"/><circle cx="453.3" cy="1905.0" r="0.6"/><circle cx="544.7" cy="1911.3" r="0.6"/><circle cx="527.9" cy="1873.8" r="0.7"/><circle cx="543.8" cy="1960.9" r="0.5"/><circle cx="484.7" cy="1842.1" r="0.4"/><circle cx="450.7" cy="1860.3" r="0.7"/><circle cx="489.5" cy="1918.4" r="0.6"/><circle cx="446.0" cy="1836.2" r="0.5"/><circle cx="559.3" cy="1912.8" r="0.5"/><circle cx="430.1" cy="1898.3" r="0.8"/><circle cx="506.5" cy="1936.6" r="0.8"/><circle cx="532.8" cy="1938.4" r="0.7"/><circle cx="476.4" cy="1919.0" r="0.6"/><circle cx="550.0" cy="1938.4" r="0.4"/><circle cx="511.5" cy="1876.1" r="0.6"/><circle cx="498.9" cy="1863.9" r="0.9"/><circle cx="515.7" cy="1947.3" r="0.7"/><circle cx="516.5" cy="1831.5" r="0.7"/><circle cx="463.0" cy="1839.6" r="0.5"/><circle cx="551.5" cy="1868.9" r="0.7"/><circle cx="509.9" cy="1926.5" r="0.9"/><circle cx="494.5" cy="1916.3" r="0.8"/><circle cx="454.2" cy="1935.1" r="0.5"/><circle cx="430.8" cy="1834.8" r="0.9"/><circle cx="486.1" cy="1854.2" r="0.6"/><circle cx="553.2" cy="1941.9" r="0.6"/><circle cx="523.4" cy="1829.4" r="0.9"/><circle cx="500.2" cy="1937.9" r="0.7"/><circle cx="445.0" cy="1842.4" r="0.4"/><circle cx="429.1" cy="1933.6" r="0.8"/><circle cx="419.2" cy="1890.7" r="0.8"/><circle cx="488.2" cy="1871.2" r="0.8"/><circle cx="478.5" cy="1876.3" r="0.5"/><circle cx="469.5" cy="1958.8" r="0.9"/><circle cx="500.9" cy="1843.3" r="0.9"/><circle cx="430.2" cy="1905.8" r="0.4"/><circle cx="490.6" cy="1850.9" r="0.8"/><circle cx="439.8" cy="1968.8" r="0.8"/><circle cx="460.2" cy="1867.7" r="0.4"/><circle cx="527.7" cy="1918.6" r="0.7"/><circle cx="436.4" cy="1870.3" r="0.4"/><circle cx="440.1" cy="1901.9" r="0.7"/><circle cx="534.7" cy="1933.0" r="0.9"/><circle cx="505.8" cy="1944.1" r="0.7"/><circle cx="430.5" cy="1846.0" r="0.4"/><circle cx="542.8" cy="1964.5" r="0.6"/><circle cx="433.6" cy="1845.3" r="0.5"/><circle cx="499.4" cy="1865.5" r="0.8"/><circle cx="465.4" cy="1947.6" r="0.7"/><circle cx="417.2" cy="1904.4" r="0.4"/><circle cx="549.1" cy="1855.7" r="0.6"/><circle cx="456.0" cy="1936.5" r="0.8"/><circle cx="527.8" cy="1851.4" r="0.6"/><circle cx="493.0" cy="1854.5" r="0.7"/><circle cx="423.1" cy="1833.6" r="0.7"/><circle cx="432.6" cy="1844.9" r="0.5"/><circle cx="499.8" cy="1903.2" r="0.7"/><circle cx="417.4" cy="1968.1" r="0.9"/><circle cx="472.5" cy="1848.0" r="0.9"/><circle cx="559.6" cy="1850.8" r="0.7"/><circle cx="553.8" cy="1855.3" r="0.4"/><circle cx="470.4" cy="1887.0" r="0.4"/><circle cx="549.8" cy="1893.7" r="0.5"/><circle cx="549.6" cy="1838.2" r="0.6"/><circle cx="511.7" cy="1929.4" r="0.6"/><circle cx="480.8" cy="1891.2" r="0.7"/><circle cx="530.5" cy="1940.1" r="0.8"/><circle cx="517.0" cy="1928.1" r="0.6"/><circle cx="558.9" cy="1926.2" r="0.5"/><circle cx="423.6" cy="1881.1" r="0.6"/><circle cx="552.6" cy="1904.8" r="0.7"/><circle cx="514.6" cy="1857.5" r="0.6"/><circle cx="421.4" cy="1870.9" r="0.6"/><circle cx="433.7" cy="1938.9" r="0.4"/><circle cx="503.2" cy="1946.7" r="0.7"/><circle cx="466.1" cy="1851.7" r="0.6"/><circle cx="419.2" cy="1936.0" r="0.5"/><circle cx="444.2" cy="1943.6" r="0.4"/><circle cx="446.2" cy="1879.9" r="0.7"/><circle cx="529.3" cy="1931.8" r="0.6"/><circle cx="423.4" cy="1895.9" r="0.4"/><circle cx="485.9" cy="1940.1" r="0.6"/><circle cx="553.4" cy="1834.3" r="0.6"/><circle cx="504.7" cy="1964.1" r="0.4"/><circle cx="442.0" cy="1968.8" r="0.5"/><circle cx="552.8" cy="1857.4" r="0.7"/><circle cx="461.2" cy="1889.1" r="0.8"/><circle cx="516.4" cy="1854.6" r="0.7"/><circle cx="543.4" cy="1898.9" r="0.4"/><circle cx="460.2" cy="1957.3" r="0.7"/><circle cx="475.2" cy="1836.2" r="0.7"/><circle cx="427.4" cy="1860.6" r="0.9"/><circle cx="504.3" cy="1888.5" r="0.7"/><circle cx="426.2" cy="1832.4" r="0.7"/><circle cx="456.5" cy="1867.3" r="0.8"/><circle cx="495.6" cy="1878.5" r="0.7"/><circle cx="515.5" cy="1873.7" r="0.7"/><circle cx="533.3" cy="1838.5" r="0.8"/><circle cx="424.6" cy="1868.0" r="0.6"/><circle cx="439.9" cy="1859.5" r="0.7"/><circle cx="503.9" cy="1931.4" r="0.4"/><circle cx="469.6" cy="1889.3" r="0.8"/><circle cx="440.7" cy="1885.8" r="0.7"/><circle cx="531.7" cy="1905.7" r="0.7"/><circle cx="431.2" cy="1881.0" r="0.6"/><circle cx="490.5" cy="1939.9" r="0.9"/><circle cx="547.5" cy="1930.3" r="0.9"/><circle cx="460.9" cy="1963.9" r="0.8"/><circle cx="539.1" cy="1899.8" r="0.4"/><circle cx="538.6" cy="1944.8" r="0.8"/><circle cx="504.4" cy="1956.7" r="0.4"/><circle cx="504.5" cy="1844.2" r="0.4"/><circle cx="555.5" cy="1848.9" r="0.8"/><circle cx="456.4" cy="1955.0" r="0.7"/><circle cx="433.4" cy="1916.9" r="0.7"/><circle cx="418.0" cy="1857.6" r="0.9"/><circle cx="472.3" cy="1925.5" r="0.6"/><circle cx="557.2" cy="1884.4" r="0.7"/><circle cx="523.8" cy="1833.8" r="0.9"/><circle cx="494.1" cy="1829.9" r="0.7"/><circle cx="453.3" cy="1849.8" r="0.8"/><circle cx="546.3" cy="1960.5" r="0.4"/><circle cx="534.8" cy="1843.2" r="0.8"/><circle cx="515.2" cy="1840.9" r="0.6"/><circle cx="473.1" cy="1899.7" r="0.8"/></g>
  <!-- screws -->
  <g id="scrw">
    <circle cx="487.5" cy="1860.3" r="9.3" fill="url(#gscrew)" stroke="#3f4042" stroke-width="1"/>
    <path d="M487.5 1854.8 L490 1857.6 L493.4 1857.3 L491.8 1860.3 L493.4 1863.3 L490 1863 L487.5 1865.8 L485 1863 L481.6 1863.3 L483.2 1860.3 L481.6 1857.3 L485 1857.6 Z" fill="none" stroke="#3f4042" stroke-width="1.3" stroke-linejoin="round"/>
  </g>
  <use href="#scrw" transform="translate(-220.1,151.2)"/>
  <use href="#scrw" transform="translate(55.9,150)"/>
  <use href="#scrw" transform="translate(-301.6,271.9)"/>
  <use href="#scrw" transform="translate(128.7,272.5)"/>
  <!-- connectors -->
  <g id="tab">
    <path d="M271 1697.4 L280.6 1676.4 H297 L303.6 1686.5 V1698.6 Z" fill="#e9eaec" stroke="#58595b" stroke-width="1.2"/>
    <path d="M279.5 1680.2 H299.5 L302 1684 Q300 1693.5 289.5 1693.2 Q279 1693 279.5 1680.2 Z" fill="#1f8dbf"/>
    <path d="M280.2 1680 L281.5 1676.8 H296.6 L299 1680.2" fill="#ffffff" stroke="#58595b" stroke-width="0.9"/>
    <rect x="287" y="1685.6" width="3.3" height="2.8" fill="#ffffff"/>
  </g>
  <use href="#tab" transform="translate(25.4,13.5)"/>
  <use href="#tab" transform="translate(33.6,268.8)"/>
  <use href="#tab" transform="translate(59.5,281.5)"/>
</g>
<!-- wires -->
<g fill="none" stroke-linecap="round" stroke-linejoin="round">
  <path id="wW" d="M808.0 1523.0 C807.0 1521.2 805.0 1514.2 802.0 1512.0 C799.0 1509.8 795.7 1509.7 790.0 1510.0 C784.3 1510.3 774.2 1513.0 768.0 1514.0 C761.8 1515.0 758.6 1517.3 752.7 1516.3 C746.8 1515.3 739.4 1509.1 732.6 1508.2 C725.8 1507.3 718.3 1512.4 712.0 1511.0 C705.7 1509.6 699.6 1502.8 695.0 1500.0 C690.4 1497.2 690.1 1496.4 684.3 1494.2 C678.5 1492.0 667.4 1487.7 660.0 1487.0 C652.6 1486.3 646.0 1487.8 640.0 1490.0 C634.0 1492.2 632.0 1493.8 624.3 1500.0 C616.6 1506.2 603.9 1518.8 593.7 1527.4 C583.5 1536.0 571.3 1543.5 563.0 1551.5 C554.7 1559.5 549.6 1570.5 543.7 1575.7 C537.8 1581.0 537.6 1580.6 527.6 1583.0 C517.6 1585.4 495.3 1587.2 484.0 1590.0 C472.7 1592.8 467.7 1595.1 460.0 1599.8 C452.3 1604.5 444.2 1612.8 438.0 1618.0 C431.8 1623.2 430.5 1627.5 422.6 1631.0 C414.7 1634.5 403.8 1637.3 390.4 1639.0 C377.0 1640.7 352.9 1640.5 342.0 1641.0 C331.1 1641.5 332.0 1640.5 325.0 1642.0 C318.0 1643.5 305.7 1646.7 300.0 1650.0 C294.3 1653.3 292.8 1657.3 291.0 1662.0 C289.2 1666.7 289.0 1673.7 289.0 1678.0 C289.0 1682.3 288.7 1686.0 291.0 1688.0 C293.3 1690.0 299.5 1689.0 303.0 1690.0 C306.5 1691.0 310.2 1691.8 312.0 1694.0 C313.8 1696.2 314.3 1699.3 314.0 1703.0 C313.7 1706.7 311.8 1710.7 310.0 1716.0 C308.2 1721.3 305.0 1727.7 303.0 1735.0 C301.0 1742.3 298.7 1750.8 298.0 1760.0 C297.3 1769.2 299.3 1778.3 299.0 1790.0 C298.7 1801.7 297.5 1816.7 296.0 1830.0 C294.5 1843.3 290.5 1858.3 290.0 1870.0 C289.5 1881.7 289.7 1891.3 293.0 1900.0 C296.3 1908.7 305.3 1915.7 310.0 1922.0 C314.7 1928.3 318.8 1933.2 321.0 1938.0 C323.2 1942.8 320.2 1948.2 323.0 1951.0 C325.8 1953.8 334.0 1954.0 338.0 1955.0 C342.0 1956.0 344.8 1955.2 347.0 1957.0 C349.2 1958.8 349.8 1962.2 351.0 1966.0 C352.2 1969.8 353.8 1974.3 354.0 1980.0 C354.2 1985.7 350.7 1994.5 352.0 2000.0 C353.3 2005.5 358.8 2009.5 362.0 2013.0 C365.2 2016.5 369.5 2019.7 371.0 2021.0" stroke="#8e8f91" stroke-width="3.2"/>
  <path d="M808.0 1523.0 C807.0 1521.2 805.0 1514.2 802.0 1512.0 C799.0 1509.8 795.7 1509.7 790.0 1510.0 C784.3 1510.3 774.2 1513.0 768.0 1514.0 C761.8 1515.0 758.6 1517.3 752.7 1516.3 C746.8 1515.3 739.4 1509.1 732.6 1508.2 C725.8 1507.3 718.3 1512.4 712.0 1511.0 C705.7 1509.6 699.6 1502.8 695.0 1500.0 C690.4 1497.2 690.1 1496.4 684.3 1494.2 C678.5 1492.0 667.4 1487.7 660.0 1487.0 C652.6 1486.3 646.0 1487.8 640.0 1490.0 C634.0 1492.2 632.0 1493.8 624.3 1500.0 C616.6 1506.2 603.9 1518.8 593.7 1527.4 C583.5 1536.0 571.3 1543.5 563.0 1551.5 C554.7 1559.5 549.6 1570.5 543.7 1575.7 C537.8 1581.0 537.6 1580.6 527.6 1583.0 C517.6 1585.4 495.3 1587.2 484.0 1590.0 C472.7 1592.8 467.7 1595.1 460.0 1599.8 C452.3 1604.5 444.2 1612.8 438.0 1618.0 C431.8 1623.2 430.5 1627.5 422.6 1631.0 C414.7 1634.5 403.8 1637.3 390.4 1639.0 C377.0 1640.7 352.9 1640.5 342.0 1641.0 C331.1 1641.5 332.0 1640.5 325.0 1642.0 C318.0 1643.5 305.7 1646.7 300.0 1650.0 C294.3 1653.3 292.8 1657.3 291.0 1662.0 C289.2 1666.7 289.0 1673.7 289.0 1678.0 C289.0 1682.3 288.7 1686.0 291.0 1688.0 C293.3 1690.0 299.5 1689.0 303.0 1690.0 C306.5 1691.0 310.2 1691.8 312.0 1694.0 C313.8 1696.2 314.3 1699.3 314.0 1703.0 C313.7 1706.7 311.8 1710.7 310.0 1716.0 C308.2 1721.3 305.0 1727.7 303.0 1735.0 C301.0 1742.3 298.7 1750.8 298.0 1760.0 C297.3 1769.2 299.3 1778.3 299.0 1790.0 C298.7 1801.7 297.5 1816.7 296.0 1830.0 C294.5 1843.3 290.5 1858.3 290.0 1870.0 C289.5 1881.7 289.7 1891.3 293.0 1900.0 C296.3 1908.7 305.3 1915.7 310.0 1922.0 C314.7 1928.3 318.8 1933.2 321.0 1938.0 C323.2 1942.8 320.2 1948.2 323.0 1951.0 C325.8 1953.8 334.0 1954.0 338.0 1955.0 C342.0 1956.0 344.8 1955.2 347.0 1957.0 C349.2 1958.8 349.8 1962.2 351.0 1966.0 C352.2 1969.8 353.8 1974.3 354.0 1980.0 C354.2 1985.7 350.7 1994.5 352.0 2000.0 C353.3 2005.5 358.8 2009.5 362.0 2013.0 C365.2 2016.5 369.5 2019.7 371.0 2021.0" stroke="#ffffff" stroke-width="1.4"/>
  <path d="M809.0 1522.3 C807.7 1520.4 804.2 1513.0 801.0 1511.0 C797.8 1509.0 795.2 1510.0 790.0 1510.3 C784.8 1510.6 776.2 1512.3 770.0 1513.0 C763.8 1513.7 761.6 1515.1 752.7 1514.3 C743.8 1513.5 727.9 1510.5 716.5 1508.2 C705.1 1505.9 693.7 1502.4 684.3 1500.2 C674.9 1498.0 667.9 1495.0 660.0 1495.0 C652.1 1495.0 644.8 1497.4 637.0 1500.0 C629.2 1502.6 621.0 1505.8 613.0 1510.5 C605.0 1515.2 598.2 1521.4 588.8 1528.2 C579.4 1535.0 566.8 1544.4 556.6 1551.5 C546.4 1558.6 537.5 1565.5 527.6 1570.9 C517.7 1576.3 508.3 1577.3 497.0 1583.7 C485.7 1590.1 471.7 1602.6 460.0 1609.5 C448.3 1616.4 438.2 1622.1 426.6 1625.0 C415.0 1627.9 401.1 1626.0 390.4 1627.0 C379.7 1628.0 370.9 1628.3 362.2 1631.0 C353.5 1633.7 345.4 1640.2 338.0 1643.0 C330.6 1645.8 325.0 1646.5 318.0 1648.0 C311.0 1649.5 300.8 1649.2 296.0 1652.0 C291.2 1654.8 290.2 1660.2 289.0 1665.0 C287.8 1669.8 287.8 1677.3 288.5 1681.0 C289.2 1684.7 290.1 1685.7 293.0 1687.0 C295.9 1688.3 302.3 1687.0 305.7 1688.7 C309.1 1690.4 312.2 1693.5 313.1 1697.0 C314.0 1700.5 312.5 1705.8 311.0 1710.0 C309.5 1714.2 306.0 1717.8 304.0 1722.0 C302.0 1726.2 299.8 1730.3 299.2 1735.0 C298.6 1739.7 299.0 1744.4 300.1 1750.0 C301.2 1755.6 305.4 1761.1 306.0 1768.6 C306.6 1776.1 305.3 1787.3 304.0 1795.0 C302.7 1802.7 301.4 1808.6 298.0 1815.0 C294.6 1821.4 286.3 1825.9 283.4 1833.6 C280.5 1841.3 279.1 1852.1 280.6 1861.4 C282.2 1870.7 287.6 1881.6 292.7 1889.3 C297.8 1897.0 305.8 1902.0 311.3 1907.8 C316.9 1913.6 323.4 1918.6 326.0 1924.0 C328.6 1929.4 327.6 1935.8 327.0 1940.0 C326.4 1944.2 320.7 1946.9 322.4 1949.0 C324.1 1951.1 333.3 1951.5 337.3 1952.4 C341.3 1953.3 344.4 1952.1 346.6 1954.3 C348.8 1956.5 348.8 1961.7 350.3 1965.4 C351.8 1969.1 355.7 1971.2 355.8 1976.5 C355.9 1981.8 350.3 1991.4 351.2 1997.0 C352.1 2002.6 357.8 2006.0 361.4 2010.0 C365.0 2014.0 370.7 2019.2 372.6 2021.0" stroke="#58595b" stroke-width="1.6"/>
</g>

<!-- ===== device 2 ===== -->
<use href="#dev" transform="translate(726.4,1526.7) scale(0.922) translate(-357,-406)"/>
<g fill="#ffffff">
  <rect x="760.6" y="1533" width="25.4" height="9.5" rx="4.75"/>
  <rect x="1015.5" y="1533" width="25.4" height="9.5" rx="4.75"/>
  <rect x="793.4" y="1838" width="11.3" height="24.6" rx="5.6"/>
  <rect x="993" y="1838" width="11.3" height="24.6" rx="5.6"/>
</g>
<g fill="#1f8dbf">
  <path d="M799 1525.8 H821.4 V1528 H816.4 V1549.7 H799 Z"/>
  <path d="M794 1531 h2.5 v8 h3 v2 h-3 v7 l-2.5 2.4 Z"/>
  <rect x="799.5" y="1569" width="6" height="6"/>
  <rect x="806.5" y="1569" width="6" height="6"/>
</g>
<!-- small circle -->
<circle cx="807.3" cy="1538.5" r="54.6" fill="none" stroke="#ffffff" stroke-width="9"/>
<circle cx="807.3" cy="1538.5" r="54.6" fill="none" stroke="#1f8dbf" stroke-width="5.8"/>
<rect x="808.6" y="1425" width="9.2" height="60" fill="#1f8dbf"/>

<!-- ===== zoom circle ===== -->
<clipPath id="zc"><circle cx="889" cy="1270.2" r="166"/></clipPath>
<g clip-path="url(#zc)">
  <rect x="700" y="1080" width="380" height="380" fill="#ffffff"/>
  <rect x="700" y="1274.9" width="380" height="200" fill="#5a5a5c"/>
  <rect x="700" y="1398.8" width="380" height="80" fill="#8a8a8c"/>
  <rect x="700" y="1417.3" width="380" height="1" fill="#6a6a6c"/>
  <path d="M830 1408.6 L846.3 1398 H921.8 L944.8 1408.6 Z" fill="#5a5a5c"/>
  <!-- socket -->
  <path d="M827 1353.5 L846.3 1333 V1360.6 L827 1378 Z" fill="#e9eaec" stroke="#6d6e70" stroke-width="1"/>
  <path d="M827 1378 L846.3 1360.6 H922 V1407.7 H846.3 V1388.7 H827 Z" fill="#ffffff" stroke="#6d6e70" stroke-width="1"/>
  <rect x="846.3" y="1332.5" width="75.7" height="28.1" fill="#e9eaec" stroke="#6d6e70" stroke-width="1"/>
  <path d="M856 1338 H873.5 L883.5 1347 L873.5 1356 H856 Z" fill="#e9eaec" stroke="#1f8dbf" stroke-width="4" stroke-linejoin="miter"/>
  <rect x="894" y="1338" width="19" height="18" fill="#e9eaec" stroke="#1f8dbf" stroke-width="4"/>
  <!-- pins -->
  <g fill="#1f8dbf">
    <path d="M854.6 1255.5 H883 V1300.5 L873.1 1309.8 H854.6 Z"/>
    <path d="M896 1255.5 H925 V1300.5 L915 1309.8 H896 Z"/>
  </g>
  <path d="M873.1 1255.5 V1309.8 M915 1238 V1309.8" stroke="#2a7aa5" stroke-width="0.8"/>
  <!-- clip -->
  <path d="M800.6 1172.1 L809.8 1162.5 H829.1 V1276.8 H838.3 V1287.3 L820.3 1305 H810 V1191.4 H800.6 Z" fill="#e9eaec" stroke="#6d6e70" stroke-width="1.1" stroke-linejoin="round"/>
  <path d="M800.6 1172.1 H820.3 V1286.5 H829.1 V1296.1 L820.3 1305 H810 V1191.4 H800.6 Z" fill="#ffffff" stroke="#6d6e70" stroke-width="1.1" stroke-linejoin="round"/>
  <path d="M820.3 1218.8 Q834 1218.5 839 1203 V1243.5 Q834 1228.8 820.3 1228.5 Z" fill="#ffffff"/>
  <path d="M820.3 1218.8 Q834 1218.5 839 1203 M839 1243.5 Q834 1228.8 820.3 1228.5" fill="none" stroke="#6d6e70" stroke-width="1.1"/>
  <!-- box -->
  <path d="M839.1 1160.4 L858.4 1141.5 H953.4 L924.1 1169.7 H915 Z" fill="#ffffff" stroke="#6d6e70" stroke-width="1.2"/>
  <path d="M853.6 1155.2 L863 1145.6 H921 L911.2 1155.2 Z" fill="#e9eaec" stroke="#6d6e70" stroke-width="1.1"/>
  <path d="M915 1255.5 L934.6 1236.5 V1163.3 L924.1 1169.7 H915 Z" fill="#e9eaec" stroke="#6d6e70" stroke-width="1.2"/>
  <rect x="839.1" y="1160.4" width="75.9" height="95.1" fill="#ffffff" stroke="#6d6e70" stroke-width="1.2"/>
  <!-- wires -->
  <path d="M800 1126 Q830 1118 855 1112 Q868 1110 872 1122 Q880 1136 892 1140 Q899 1144 899 1155" fill="none" stroke="#6d6e70" stroke-width="3.6"/>
  <path d="M800 1126 Q830 1118 855 1112 Q868 1110 872 1122 Q880 1136 892 1140 Q899 1144 899 1155" fill="none" stroke="#ffffff" stroke-width="1.5"/>
  <path d="M803 1128 Q830 1119 851 1114 Q868 1113 876 1127 Q882 1135 889 1139 Q895 1145 896 1155" fill="none" stroke="#58595b" stroke-width="4"/>
  <path d="M871 1106 Q874 1115 873 1120" fill="none" stroke="#6d6e70" stroke-width="3"/>
  <path d="M871 1106 Q874 1115 873 1120" fill="none" stroke="#fff" stroke-width="1.2"/>
</g>
<circle cx="889" cy="1270.2" r="172" fill="none" stroke="#1f8dbf" stroke-width="14"/>


</g>
</svg>
</body></html>
